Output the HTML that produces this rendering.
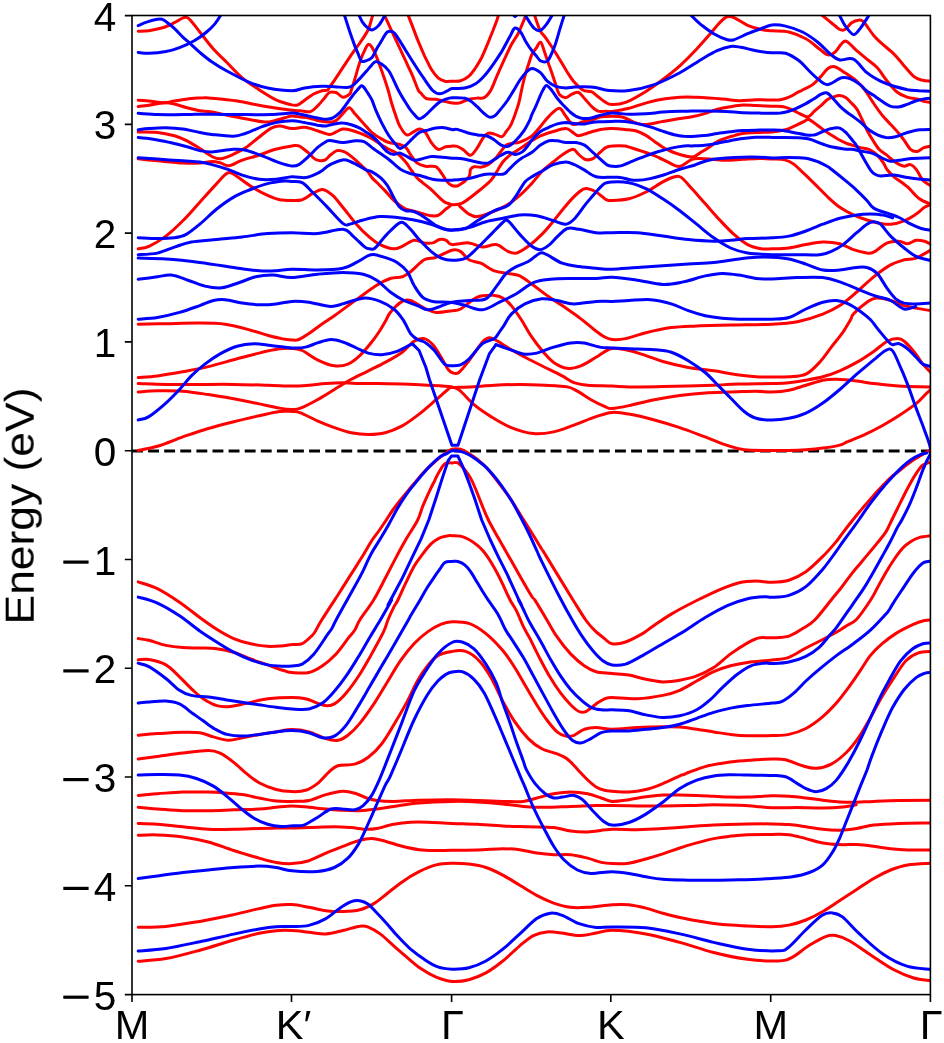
<!DOCTYPE html>
<html><head><meta charset="utf-8"><style>
html,body{margin:0;padding:0;background:#fff;}
body{width:944px;height:1043px;overflow:hidden;font-family:"Liberation Sans",sans-serif;}
svg{display:block;}
.t{will-change:transform;}
</style></head><body>
<svg width="944" height="1043" viewBox="0 0 944 1043">
<defs><clipPath id="c"><rect x="132" y="15.5" width="798.4" height="979.1"/></clipPath></defs>
<rect width="944" height="1043" fill="#fff"/>
<line x1="132" y1="450.9" x2="930.4" y2="450.9" stroke="#000" stroke-width="3" stroke-dasharray="10.9 5.2"/>
<g clip-path="url(#c)" fill="none" stroke-width="3" stroke-linejoin="round" stroke-linecap="round">
<g stroke="#f00"><path d="M138.2,100.2 C140.0,100.3 144.6,100.6 148.9,101.0 C153.3,101.4 160.0,102.7 164.2,102.7 C168.4,102.7 169.9,101.7 174.4,101.0 C178.9,100.3 186.4,99.0 191.3,98.5 C196.3,97.9 200.6,97.8 204.0,97.8 C207.5,97.7 206.4,97.6 212.0,98.2 C217.6,98.7 228.9,99.7 237.4,101.0 C245.9,102.3 253.8,104.5 262.8,106.1 C271.9,107.7 285.7,109.6 292.0,110.3 C298.3,111.1 297.4,110.6 300.5,110.8 C303.6,111.0 307.8,112.4 310.6,111.6 C313.5,110.8 315.2,108.3 317.4,106.1 C319.7,103.9 322.2,100.7 324.2,98.5 C326.2,96.2 327.3,93.5 329.3,92.5 C331.3,91.6 333.8,91.8 336.1,92.5 C338.3,93.3 340.6,96.9 342.8,97.2 C345.1,97.5 348.2,95.4 349.6,94.2 C351.0,93.0 350.5,92.5 351.3,90.0 C352.2,87.5 353.6,83.2 354.7,79.5 C355.8,75.8 357.0,71.3 358.1,67.6 C359.2,64.0 360.4,60.4 361.5,57.5 C362.6,54.5 363.8,52.0 364.9,49.8 C366.0,47.6 367.1,44.7 368.3,44.3 C369.5,43.9 370.8,45.7 372.0,47.3 C373.2,48.9 374.1,51.1 375.4,54.1 C376.7,57.0 378.4,61.7 379.6,65.1 C380.9,68.5 381.6,70.3 383.0,74.4 C384.4,78.6 386.7,85.3 388.1,90.0 C389.5,94.7 390.2,98.5 391.5,102.7 C392.8,106.9 394.3,111.5 395.7,115.4 C397.1,119.4 398.1,123.2 400.0,126.4 C401.8,129.7 404.6,133.9 406.7,134.9 C408.9,135.9 410.6,133.4 412.7,132.4 C414.8,131.4 417.3,129.0 419.5,129.0 C421.6,129.0 423.4,130.1 425.4,132.4 C427.4,134.6 429.2,139.7 431.3,142.5 C433.4,145.4 435.7,148.6 438.1,149.3 C440.5,150.0 443.4,147.3 445.7,146.8 C448.0,146.2 450.1,146.2 452.0,146.1 C453.9,146.1 455.1,145.7 457.1,146.4 C459.1,147.0 461.6,148.7 463.9,150.2 C466.1,151.7 468.4,155.7 470.6,155.3 C472.9,154.8 475.3,150.6 477.4,147.6 C479.5,144.7 481.5,139.9 483.4,137.5 C485.2,135.1 486.6,133.8 488.4,133.2 C490.3,132.7 492.1,133.5 494.4,134.1 C496.6,134.6 500.0,137.0 502.0,136.6 C504.0,136.2 504.8,133.4 506.2,131.5 C507.6,129.7 509.1,128.3 510.5,125.6 C511.9,122.9 513.3,119.2 514.7,115.4 C516.1,111.6 517.8,107.0 518.9,102.7 C520.1,98.4 520.6,94.2 521.6,89.8 C522.6,85.3 523.6,80.6 524.9,76.1 C526.1,71.6 527.9,66.1 529.1,62.5 C530.3,58.9 530.7,56.9 531.9,54.5 C533.1,52.1 534.8,50.2 536.2,48.1 C537.7,46.1 539.1,41.5 540.6,42.2 C542.0,42.9 543.3,48.6 544.7,52.4 C546.1,56.2 547.9,61.8 549.0,65.0 C550.2,68.2 550.5,69.0 551.5,71.9 C552.5,74.7 553.9,79.0 554.9,82.0 C555.9,85.1 556.6,87.8 557.4,90.0 C558.3,92.2 558.6,93.8 560.0,95.1 C561.4,96.4 563.9,97.8 565.9,97.6 C567.9,97.5 569.7,95.1 571.8,94.2 C573.9,93.4 576.5,91.8 578.6,92.5 C580.7,93.2 582.4,96.2 584.5,98.5 C586.7,100.7 589.1,104.0 591.3,106.1 C593.6,108.2 595.7,110.3 598.1,111.2 C600.5,112.0 603.4,111.2 605.7,111.2 C608.1,111.2 608.4,111.9 612.2,111.4 C616.1,110.9 621.9,110.1 628.9,108.3 C636.0,106.5 645.9,102.5 654.4,100.7 C662.8,98.8 672.7,97.9 679.8,97.3 C686.9,96.7 689.7,97.0 696.7,97.3 C703.8,97.6 715.1,98.4 722.2,99.0 C729.2,99.5 733.5,100.5 739.1,100.7 C744.8,100.8 750.6,99.9 756.1,99.8 C761.5,99.7 767.9,100.0 772.0,100.0 C776.1,100.0 777.6,100.2 780.5,99.7 C783.3,99.3 786.1,98.4 788.9,97.2 C791.8,96.0 795.2,93.7 797.4,92.5 C799.7,91.3 800.0,91.3 802.5,90.0 C805.1,88.7 809.6,86.9 812.7,84.6 C815.8,82.3 818.6,78.8 821.2,76.1 C823.7,73.4 825.7,70.0 827.9,68.5 C830.2,66.9 831.9,66.1 834.7,66.8 C837.5,67.5 841.2,70.3 844.9,72.7 C848.6,75.1 853.4,78.2 856.7,81.2 C860.1,84.1 862.3,86.8 865.1,90.4 C867.8,94.0 870.4,98.7 873.2,102.7 C875.9,106.7 878.8,111.0 881.7,114.6 C884.5,118.1 887.3,120.8 890.1,123.9 C893.0,127.0 896.2,130.4 898.6,133.2 C901.0,136.0 902.6,138.2 904.5,140.8 C906.5,143.5 908.4,147.6 910.5,149.3 C912.6,151.1 915.0,151.7 917.3,151.4 C919.5,151.2 921.6,148.5 924.0,147.6 C926.4,146.7 930.4,146.2 931.7,145.9"/><path d="M931.3,186.1 C929.9,185.1 925.3,182.9 922.8,180.2 C920.4,177.4 918.5,172.2 916.4,169.6 C914.4,167.0 912.5,165.1 910.5,164.6 C908.5,164.0 906.4,166.3 904.5,166.3 C902.7,166.3 901.4,165.6 899.5,164.6 C897.5,163.6 894.9,162.0 892.7,160.3 C890.4,158.6 888.2,156.2 885.9,154.4 C883.6,152.6 881.2,151.6 879.1,149.3 C877.0,147.1 875.2,144.0 873.2,140.8 C871.2,137.7 869.1,134.2 867.3,130.7 C865.4,127.1 863.9,123.2 862.2,119.7 C860.5,116.1 858.8,112.2 857.1,109.5 C855.4,106.8 853.9,105.5 852.0,103.6 C850.1,101.6 847.8,99.0 845.7,97.6 C843.7,96.3 841.8,95.6 839.8,95.5 C837.8,95.4 835.8,96.1 833.9,96.8 C831.9,97.4 830.1,97.9 827.9,99.3 C825.8,100.7 823.4,103.3 821.2,105.3 C818.9,107.2 816.5,109.3 814.4,111.2 C812.3,113.1 810.3,116.0 808.4,116.7 C806.6,117.4 805.2,116.1 803.4,115.4 C801.5,114.7 799.5,113.5 797.4,112.5 C795.3,111.4 793.2,110.1 790.6,109.1 C788.1,108.1 785.3,107.0 782.2,106.5 C779.1,106.1 776.4,106.4 772.0,106.2 C767.6,106.1 760.4,105.7 755.6,105.5 C750.7,105.3 747.1,104.9 742.8,105.1 C738.6,105.3 734.4,106.1 730.1,106.8 C725.9,107.5 721.7,108.2 717.4,109.3 C713.2,110.5 708.9,112.3 704.7,113.6 C700.5,114.8 696.9,115.7 692.0,116.7 C687.1,117.6 680.4,118.5 675.6,119.3 C670.7,120.1 667.1,120.7 662.8,121.4 C658.6,122.2 653.7,123.5 650.1,124.0 C646.6,124.5 644.5,124.8 641.7,124.4 C638.8,124.1 636.3,123.1 633.2,121.9 C630.1,120.7 626.5,118.1 623.0,117.2 C619.5,116.3 615.9,116.3 612.0,116.3 C608.1,116.3 603.2,116.4 599.8,117.1 C596.4,117.8 594.1,119.7 591.3,120.5 C588.5,121.3 586.0,121.1 582.8,121.8 C579.7,122.4 575.5,125.2 572.7,124.3 C569.9,123.4 568.2,119.0 565.9,116.3 C563.6,113.6 561.9,108.2 559.1,108.2 C556.3,108.2 552.1,113.2 548.9,116.3 C545.8,119.3 543.3,123.2 540.5,126.4 C537.6,129.7 535.4,133.1 532.0,135.8 C528.6,138.4 523.2,140.8 519.8,142.1 C516.4,143.4 513.6,142.9 511.3,143.4 C509.1,143.9 507.9,143.8 506.2,145.1 C504.5,146.4 502.8,148.9 501.2,151.0 C499.5,153.1 498.2,155.5 496.1,157.8 C493.9,160.1 490.8,163.0 488.4,164.6 C486.0,166.1 484.1,166.8 481.7,167.1 C479.3,167.5 475.9,166.3 474.0,166.7 C472.2,167.1 471.3,167.9 470.4,169.6 C469.6,171.3 470.9,174.2 468.9,176.8 C467.0,179.4 461.6,183.8 458.8,185.3 C455.9,186.7 453.8,186.2 451.8,185.5 C449.8,184.8 448.2,183.0 446.6,181.1 C445.0,179.2 444.1,176.7 442.3,174.3 C440.5,171.9 438.6,168.1 435.7,166.7 C432.9,165.4 428.5,166.9 425.4,166.3 C422.3,165.6 419.3,164.7 416.9,162.9 C414.5,161.0 412.8,157.8 411.0,155.3 C409.1,152.7 407.9,149.5 405.9,147.6 C403.9,145.8 401.9,145.1 399.1,144.2 C396.3,143.4 392.1,143.5 388.9,142.5 C385.8,141.6 383.4,140.1 380.5,138.3 C377.5,136.5 374.1,134.4 371.4,132.0 C368.6,129.6 366.7,126.8 364.0,123.9 C361.4,121.0 358.0,117.3 355.6,114.6 C353.1,111.9 351.3,107.9 349.2,107.8 C347.1,107.7 345.0,111.6 342.8,113.7 C340.7,115.8 338.2,119.1 336.1,120.5 C333.9,121.9 333.2,122.2 330.1,122.2 C327.0,122.2 321.0,121.2 317.4,120.5 C313.9,119.8 311.8,118.5 308.9,118.0 C306.1,117.4 303.3,117.4 300.5,117.1 C297.6,116.8 294.7,115.9 292.0,116.1 C289.3,116.2 287.5,117.1 284.0,118.0 C280.6,118.9 274.9,120.9 271.3,121.5 C267.8,122.2 268.5,122.5 262.8,121.8 C257.2,121.1 245.9,118.9 237.4,117.3 C228.9,115.7 218.3,113.2 212.0,112.1 C205.7,111.0 203.9,111.5 199.8,110.8 C195.6,110.0 191.3,108.9 187.1,107.8 C182.8,106.7 178.2,104.8 174.4,104.0 C170.6,103.1 168.4,102.5 164.2,102.7 C160.0,102.9 153.3,104.6 148.9,105.3 C144.6,105.9 140.0,106.3 138.2,106.5"/><path d="M931.0,535.7 C929.1,536.0 923.1,536.5 919.8,537.4 C916.5,538.3 914.1,539.4 911.3,541.2 C908.5,543.0 905.6,545.0 902.8,548.0 C900.0,551.0 897.2,554.9 894.4,559.0 C891.6,563.1 888.7,567.7 885.9,572.5 C883.1,577.3 879.9,583.2 877.4,587.8 C874.9,592.4 874.1,594.8 870.6,600.0 C867.2,605.2 860.8,614.8 856.7,619.2 C852.7,623.5 849.0,624.1 846.2,625.9 C843.3,627.8 843.7,627.9 839.8,630.2 C835.9,632.4 828.5,636.5 822.8,639.5 C817.2,642.5 811.5,645.0 805.9,648.0 C800.2,650.9 794.6,655.3 788.9,657.3 C783.3,659.3 778.9,659.2 772.0,660.1 C765.1,660.9 754.5,661.4 747.6,662.4 C740.7,663.3 736.3,664.2 730.6,665.8 C725.0,667.3 719.3,669.2 713.7,671.7 C708.0,674.2 702.4,677.9 696.7,681.0 C691.1,684.1 685.4,687.9 679.8,690.3 C674.1,692.7 669.9,694.0 662.8,695.4 C655.8,696.8 645.9,698.5 637.4,698.8 C628.9,699.2 617.5,697.5 612.0,697.5 C606.5,697.5 607.2,697.8 604.5,698.8 C601.9,699.9 599.2,701.8 596.1,703.9 C593.0,706.0 588.7,710.3 585.9,711.5 C583.1,712.8 581.7,712.7 579.1,711.5 C576.6,710.4 573.8,707.9 570.6,704.7 C567.5,701.6 563.9,697.4 560.5,692.9 C557.1,688.4 553.7,683.3 550.3,677.6 C546.9,672.0 543.5,665.5 540.1,659.0 C536.7,652.5 532.7,644.0 530.0,638.6 C527.2,633.3 525.7,631.4 523.4,626.7 C521.2,622.1 518.6,615.1 516.4,610.7 C514.2,606.3 512.5,604.6 510.2,600.2 C507.9,595.8 505.0,589.0 502.8,584.4 C500.6,579.8 499.0,576.5 496.9,572.5 C494.8,568.5 492.2,564.1 490.1,560.7 C488.0,557.3 486.3,554.8 484.2,552.2 C482.1,549.7 479.9,547.5 477.4,545.4 C474.8,543.3 471.7,541.0 468.9,539.5 C466.1,538.0 463.3,536.7 460.5,536.1 C457.7,535.5 454.0,535.8 452.0,535.7 C450.0,535.6 450.3,535.4 448.3,535.7 C446.3,536.1 442.6,536.5 439.8,537.8 C437.0,539.1 434.1,541.0 431.3,543.7 C428.5,546.4 425.6,550.2 422.8,553.9 C420.0,557.6 417.2,561.0 414.4,565.8 C411.6,570.6 408.7,577.0 405.9,582.7 C403.1,588.4 399.9,596.1 397.8,600.2 C395.8,604.3 395.3,604.1 393.7,607.3 C392.1,610.5 389.7,615.6 388.0,619.7 C386.3,623.8 386.3,626.2 383.5,631.9 C380.8,637.6 375.6,646.8 371.7,653.9 C367.7,661.0 364.0,667.7 359.8,674.2 C355.6,680.7 350.5,687.9 346.2,692.9 C342.0,697.8 337.8,701.8 334.4,703.9 C331.0,706.0 328.7,705.7 325.9,705.6 C323.1,705.5 320.8,704.2 317.4,703.1 C314.0,701.9 309.8,699.7 305.6,698.8 C301.3,697.9 298.3,697.5 292.0,697.5 C285.7,697.5 275.1,697.9 267.6,698.8 C260.1,699.7 253.5,701.8 247.3,703.1 C241.0,704.3 235.4,706.0 230.3,706.4 C225.2,706.9 221.3,706.9 216.7,705.6 C212.2,704.3 207.4,701.6 203.2,698.8 C198.9,696.0 195.3,692.3 191.3,688.6 C187.4,685.0 183.7,680.7 179.5,676.8 C175.2,672.8 171.0,667.8 165.9,664.9 C160.8,662.0 153.6,660.3 148.9,659.5 C144.3,658.6 140.0,659.8 138.2,659.8"/><path d="M138.2,581.9 C141.4,583.0 150.5,585.3 157.4,588.6 C164.3,592.0 172.4,597.4 179.5,602.2 C186.5,607.0 193.6,612.9 199.8,617.5 C206.0,622.0 211.1,625.8 216.7,629.3 C222.4,632.9 228.0,636.2 233.7,638.6 C239.3,641.0 245.0,642.5 250.6,643.7 C256.3,645.0 262.5,645.9 267.6,646.3 C272.7,646.6 277.1,646.2 281.2,645.9 C285.2,645.6 288.5,644.9 292.0,644.6 C295.5,644.2 298.8,645.3 302.2,643.7 C305.6,642.2 310.0,637.5 312.3,635.3 C314.6,633.0 314.4,632.8 315.9,630.2 C317.5,627.7 317.7,626.3 321.7,620.0 C325.6,613.7 334.5,600.2 339.5,592.5 C344.4,584.9 347.6,579.7 351.3,573.9 C355.0,568.1 359.0,561.8 361.5,557.8 C364.0,553.8 364.5,553.0 366.2,550.0 C368.0,547.1 369.9,543.5 372.0,540.3 C374.1,537.1 376.5,534.3 378.8,531.0 C381.1,527.7 383.6,523.9 386.0,520.3 C388.4,516.7 390.6,513.1 393.2,509.5 C395.8,505.9 398.9,502.0 401.7,498.5 C404.5,495.0 407.3,491.7 410.1,488.3 C412.9,484.9 415.8,481.4 418.6,478.1 C421.4,474.9 424.3,471.6 427.1,468.8 C429.9,466.0 432.8,463.6 435.6,461.2 C438.4,458.8 441.3,456.4 444.0,454.4 C446.7,452.4 449.2,450.0 452.0,449.2 C454.8,448.4 457.7,448.6 460.5,449.3 C463.3,450.0 466.1,451.9 468.9,453.6 C471.7,455.3 474.6,457.2 477.4,459.5 C480.2,461.8 483.1,464.1 485.9,467.1 C488.7,470.1 491.6,473.8 494.4,477.3 C497.2,480.8 500.0,484.5 502.8,488.3 C505.6,492.1 508.5,496.0 511.3,500.2 C514.1,504.4 516.3,508.2 519.8,513.7 C523.2,519.2 528.3,527.4 532.0,533.3 C535.7,539.2 539.5,545.5 541.8,549.2 C544.1,552.9 540.7,547.1 545.9,555.6 C551.1,564.1 566.4,589.3 573.0,600.0 C579.7,610.7 582.2,615.0 585.7,620.0 C589.3,625.0 591.2,627.1 594.4,630.2 C597.5,633.3 601.6,636.4 604.5,638.6 C607.5,640.9 608.5,643.2 612.0,643.7 C615.5,644.3 620.5,643.7 625.6,642.0 C630.6,640.3 638.1,636.1 642.5,633.6 C646.9,631.1 647.0,630.3 651.8,627.0 C656.6,623.8 663.8,618.5 671.3,614.1 C678.8,609.6 688.3,604.7 696.7,600.5 C705.2,596.3 715.1,591.6 722.2,588.6 C729.2,585.7 733.5,584.0 739.1,582.7 C744.8,581.4 750.6,581.1 756.1,581.0 C761.5,580.9 766.5,582.4 772.0,582.3 C777.5,582.1 783.3,581.9 788.9,580.2 C794.6,578.4 800.2,575.6 805.9,571.7 C811.5,567.7 817.8,561.4 822.8,556.4 C827.9,551.5 832.8,545.7 836.0,541.9 C839.2,538.2 839.2,537.5 842.0,533.8 C844.8,530.1 849.4,524.2 852.8,520.0 C856.2,515.8 858.8,512.6 862.2,508.6 C865.6,504.6 869.5,500.0 873.2,495.9 C876.9,491.8 881.4,487.1 884.2,484.1 C887.0,481.1 887.7,480.2 890.1,478.1 C892.5,476.0 895.8,473.6 898.6,471.4 C901.4,469.1 904.3,466.7 907.1,464.6 C909.9,462.5 912.8,460.4 915.6,458.6 C918.4,456.8 921.4,455.2 924.0,453.6 C926.6,452.0 929.8,449.9 931.0,449.2"/><path d="M138.2,377.6 C141.4,377.3 150.0,376.9 157.4,375.9 C164.9,374.9 174.4,373.2 182.8,371.7 C191.3,370.1 199.8,368.6 208.3,366.6 C216.7,364.6 225.2,362.1 233.7,359.8 C242.2,357.6 251.5,354.9 259.1,353.1 C266.7,351.2 274.0,349.6 279.5,348.8 C284.9,348.0 288.2,348.1 292.0,348.4 C295.8,348.7 297.9,348.6 302.2,350.5 C306.4,352.4 312.1,357.3 317.4,359.8 C322.8,362.4 329.3,365.1 334.4,365.8 C339.5,366.5 343.7,365.8 347.9,364.1 C352.2,362.4 355.8,359.3 359.8,355.6 C363.8,351.9 368.3,346.3 371.7,342.0 C375.1,337.8 377.7,333.9 380.1,330.2 C382.6,326.4 384.7,322.5 386.4,319.5 C388.0,316.6 387.7,315.4 390.3,312.4 C392.9,309.3 398.8,303.3 402.2,301.4 C405.6,299.4 407.0,299.4 410.6,300.5 C414.3,301.6 420.0,306.2 424.2,308.1 C428.4,310.1 431.4,311.9 436.1,312.4 C440.7,312.8 447.9,311.2 452.0,310.7 C456.1,310.1 456.2,311.2 460.5,309.0 C464.7,306.7 471.8,299.4 477.4,297.1 C483.1,294.9 490.1,295.3 494.4,295.4 C498.6,295.6 500.0,296.3 502.8,298.0 C505.7,299.7 508.2,301.9 511.3,305.6 C514.4,309.3 518.1,314.8 521.5,320.0 C524.9,325.2 528.0,331.6 531.7,336.9 C535.3,342.3 539.9,348.0 543.5,352.2 C547.2,356.4 549.7,359.7 553.7,362.4 C557.6,365.1 562.7,367.7 567.3,368.3 C571.8,368.9 576.0,367.6 580.8,365.8 C585.6,363.9 590.9,360.2 596.1,357.3 C601.2,354.4 606.3,349.6 611.8,348.5 C617.3,347.4 623.3,349.3 628.9,350.5 C634.6,351.7 640.2,353.8 645.9,355.6 C651.5,357.4 655.8,359.5 662.8,361.5 C669.9,363.5 679.8,365.9 688.3,367.5 C696.7,369.0 705.2,369.6 713.7,370.8 C722.2,372.1 732.1,374.1 739.1,375.1 C746.2,376.1 750.6,376.5 756.1,376.8 C761.5,377.1 766.5,377.0 772.0,377.0 C777.5,377.0 783.3,377.2 788.9,376.8 C794.6,376.3 800.8,376.6 805.9,374.2 C811.0,371.8 815.2,366.9 819.5,362.4 C823.7,357.9 827.4,352.2 831.3,347.1 C835.3,342.0 839.9,336.5 843.2,331.9 C846.4,327.2 849.1,322.2 850.8,319.3 C852.5,316.3 850.7,316.9 853.4,314.1 C856.0,311.2 863.0,304.9 866.9,302.2 C870.9,299.5 873.1,298.2 877.1,298.0 C881.0,297.7 886.1,299.2 890.6,300.5 C895.2,301.8 900.0,304.3 904.2,305.6 C908.4,306.9 911.5,307.3 916.1,308.1 C920.6,309.0 928.8,310.3 931.3,310.7"/><path d="M931.0,462.5 C930.3,462.6 928.1,462.8 926.6,463.3 C925.1,463.8 924.0,463.8 922.3,465.4 C920.6,467.0 918.2,470.4 916.4,473.1 C914.6,475.8 912.8,478.8 911.3,481.5 C909.8,484.2 909.1,485.4 907.1,489.2 C905.1,493.0 902.0,499.3 899.5,504.4 C897.0,509.5 894.1,515.4 891.8,520.0 C889.5,524.6 888.3,528.1 885.9,531.9 C883.5,535.7 880.2,539.4 877.4,542.9 C874.6,546.4 871.7,549.7 868.9,553.1 C866.1,556.5 863.3,559.8 860.5,563.2 C857.7,566.6 855.4,569.1 852.0,573.4 C848.6,577.7 843.8,584.3 840.4,588.8 C836.9,593.2 835.4,594.8 831.2,600.0 C826.9,605.2 819.5,615.2 814.7,620.0 C810.0,624.8 807.0,625.8 802.7,628.5 C798.4,631.2 794.1,634.6 788.9,636.1 C783.8,637.7 776.9,637.5 772.0,637.8 C767.1,638.1 763.5,636.9 759.5,637.8 C755.4,638.6 752.4,640.2 747.6,642.9 C742.8,645.6 736.3,649.8 730.6,653.9 C725.0,658.0 719.3,663.8 713.7,667.5 C708.0,671.1 702.4,673.8 696.7,675.9 C691.1,678.1 685.4,679.2 679.8,680.2 C674.1,681.2 668.5,682.0 662.8,681.9 C657.2,681.7 651.5,680.5 645.9,679.3 C640.2,678.2 634.6,676.1 628.9,675.1 C623.3,674.1 617.5,674.0 612.0,673.4 C606.5,672.8 600.7,673.0 596.1,671.7 C591.4,670.4 588.4,668.7 584.2,665.8 C580.0,662.8 575.2,658.7 570.6,653.9 C566.1,649.1 561.0,642.6 557.1,636.9 C553.1,631.3 550.6,626.1 546.9,620.0 C543.3,613.9 537.7,604.4 535.1,600.4 C532.6,596.5 534.4,600.7 531.7,596.3 C529.0,591.9 522.7,580.9 518.9,574.2 C515.1,567.6 512.2,562.3 508.8,556.4 C505.4,550.5 502.0,544.7 498.6,538.6 C495.2,532.5 491.2,525.7 488.4,520.0 C485.6,514.3 483.8,509.5 481.7,504.4 C479.6,499.3 477.5,493.6 475.7,489.2 C473.9,484.8 472.4,481.4 470.6,478.1 C468.8,474.9 466.8,472.2 464.7,469.7 C462.6,467.2 460.0,464.0 457.9,462.9 C455.8,461.8 454.2,462.8 452.0,462.9 C449.8,463.0 447.1,462.1 444.9,463.7 C442.7,465.2 440.6,469.4 438.9,472.2 C437.2,475.0 436.2,477.6 434.7,480.7 C433.1,483.8 431.6,486.6 429.6,490.8 C427.6,495.0 424.8,501.2 422.8,506.1 C420.8,511.0 420.5,514.4 417.7,520.0 C414.9,525.6 409.6,533.1 405.9,539.5 C402.2,545.9 399.2,551.5 395.7,558.1 C392.2,564.7 388.4,572.2 384.7,579.3 C381.0,586.4 377.5,593.7 373.3,600.5 C369.2,607.2 362.9,615.1 359.8,620.0 C356.7,624.9 356.8,626.9 354.8,630.0 C352.8,633.2 351.1,634.7 347.9,638.6 C344.8,642.6 340.3,649.4 336.1,653.9 C331.8,658.4 327.0,662.7 322.5,665.8 C318.0,668.9 314.0,671.4 308.9,672.5 C303.9,673.7 296.1,672.8 292.0,672.5 C287.9,672.3 288.6,672.1 284.5,670.8 C280.5,669.6 273.2,666.9 267.6,664.9 C261.9,662.9 256.3,661.1 250.6,659.0 C245.0,656.9 239.3,653.9 233.7,652.2 C228.0,650.5 222.4,649.5 216.7,648.8 C211.1,648.1 205.4,648.2 199.8,648.0 C194.1,647.8 188.5,648.1 182.8,647.6 C177.2,647.2 171.5,646.6 165.9,645.4 C160.2,644.2 153.6,641.5 148.9,640.3 C144.3,639.2 140.0,638.9 138.2,638.6"/><path d="M138.2,131.9 C141.4,132.0 151.4,131.7 157.4,132.4 C163.5,133.0 169.4,134.4 174.4,135.8 C179.3,137.2 182.8,138.7 187.1,140.8 C191.3,143.0 195.6,145.9 199.8,148.5 C203.9,151.1 208.6,154.8 212.0,156.5 C215.4,158.2 216.9,159.2 220.5,158.8 C224.0,158.5 228.9,156.3 233.2,154.4 C237.4,152.5 241.7,150.5 245.9,147.6 C250.1,144.8 254.4,140.7 258.6,137.5 C262.8,134.2 267.8,130.0 271.3,128.1 C274.9,126.2 276.4,125.9 279.8,126.0 C283.2,126.1 287.8,128.3 292.0,128.6 C296.2,128.8 300.5,126.9 304.7,127.3 C308.9,127.6 313.3,129.5 317.4,130.7 C321.5,131.9 326.2,134.3 329.3,134.5 C332.4,134.7 333.8,132.9 336.1,131.9 C338.3,131.0 340.3,129.3 342.8,129.0 C345.4,128.7 348.5,129.5 351.3,130.3 C354.1,131.0 356.4,131.8 359.8,133.2 C363.2,134.6 368.6,136.9 372.0,138.7 C375.4,140.6 377.6,142.5 380.5,144.2 C383.3,146.0 386.1,147.8 388.9,149.3 C391.8,150.9 394.9,151.7 397.4,153.6 C400.0,155.4 402.5,158.5 404.2,160.3 C405.9,162.2 406.5,163.1 407.8,164.8 C409.0,166.6 410.3,168.8 411.8,170.9 C413.4,173.1 415.1,175.7 416.9,177.7 C418.8,179.7 420.4,180.8 422.8,182.8 C425.2,184.8 428.8,187.3 431.3,189.6 C433.9,191.8 435.8,194.2 438.1,196.4 C440.4,198.5 442.8,200.9 444.9,202.3 C447.0,203.7 450.8,203.6 450.8,204.8 C450.8,206.1 447.0,208.1 444.9,209.9 C442.8,211.7 440.4,214.4 438.1,215.4 C435.8,216.4 433.9,216.1 431.3,215.8 C428.8,215.6 425.7,214.5 422.8,213.7 C420.0,213.0 417.2,212.0 414.4,211.2 C411.5,210.4 408.4,210.1 405.9,209.1 C403.4,208.0 401.4,206.5 399.1,204.8 C396.9,203.1 394.7,201.3 392.3,198.9 C389.9,196.5 387.3,193.1 384.7,190.4 C382.2,187.7 379.2,184.9 377.1,182.8 C375.0,180.7 373.6,179.6 372.0,177.7 C370.4,175.8 369.2,173.2 367.6,171.3 C366.0,169.4 364.8,168.5 362.3,166.3 C359.9,164.0 356.0,160.2 353.0,157.8 C350.1,155.4 347.2,153.1 344.5,151.9 C341.9,150.7 339.3,150.0 336.9,150.6 C334.5,151.2 332.3,153.6 330.1,155.3 C328.0,156.9 326.6,159.6 324.2,160.3 C321.8,161.0 318.6,160.9 315.7,159.5 C312.9,158.1 310.1,154.1 307.3,151.9 C304.4,149.6 301.3,146.9 298.8,145.9 C296.2,144.9 295.9,145.4 292.0,145.9 C288.1,146.5 281.1,147.8 275.6,149.3 C270.0,150.9 264.3,153.4 258.6,155.3 C253.0,157.1 246.6,158.6 241.7,160.3 C236.7,162.1 232.5,165.4 228.9,165.8 C225.4,166.3 223.3,163.6 220.5,162.9 C217.6,162.2 215.4,161.6 212.0,161.6 C208.6,161.6 204.7,162.8 199.8,163.1 C194.9,163.3 189.9,163.4 182.8,163.1 C175.8,162.7 164.9,161.5 157.4,160.8 C150.0,160.1 141.4,159.1 138.2,158.8"/><path d="M931.3,204.4 C929.3,203.5 923.4,201.7 919.5,198.8 C915.5,195.9 911.8,190.6 907.6,186.9 C903.4,183.3 897.4,179.6 894.0,176.8 C890.7,174.0 889.2,172.3 887.4,170.0 C885.6,167.7 885.0,165.3 883.4,162.9 C881.7,160.4 879.8,157.5 877.4,155.3 C875.0,153.0 871.8,150.6 868.9,149.3 C866.1,148.1 863.3,148.3 860.5,147.6 C857.6,146.9 854.3,145.8 852.0,145.1 C849.7,144.4 848.9,144.4 846.6,143.4 C844.3,142.4 840.9,140.7 838.1,139.2 C835.3,137.6 832.5,135.9 829.6,134.1 C826.8,132.2 823.7,130.0 821.2,128.1 C818.6,126.3 816.5,124.5 814.4,123.1 C812.3,121.6 810.1,119.5 808.4,119.2 C806.7,119.0 806.0,120.4 804.2,121.4 C802.4,122.3 800.0,123.5 797.4,124.7 C794.9,125.9 791.8,127.6 788.9,128.6 C786.1,129.5 783.3,130.1 780.5,130.7 C777.6,131.2 776.2,131.5 772.0,131.9 C767.8,132.2 760.4,132.4 755.6,132.6 C750.7,132.9 746.4,133.0 742.8,133.5 C739.3,134.0 737.2,134.8 734.4,135.6 C731.5,136.4 728.7,137.1 725.9,138.1 C723.1,139.1 720.2,140.0 717.4,141.5 C714.6,143.1 711.8,145.6 708.9,147.5 C706.1,149.3 703.2,151.0 700.5,152.5 C697.8,154.1 696.1,156.6 692.6,156.9 C689.2,157.2 683.3,155.4 679.8,154.5 C676.2,153.6 674.1,152.7 671.3,151.5 C668.5,150.3 665.7,149.0 662.8,147.3 C660.0,145.6 657.2,143.3 654.4,141.4 C651.5,139.4 649.0,137.2 645.9,135.4 C642.8,133.7 639.3,131.8 635.7,130.8 C632.2,129.8 628.7,129.9 624.7,129.5 C620.8,129.1 615.4,128.7 612.0,128.6 C608.6,128.5 606.8,128.6 604.0,129.0 C601.3,129.3 598.4,130.0 595.6,130.7 C592.7,131.4 589.9,132.4 587.1,133.2 C584.3,134.1 581.0,135.9 578.6,135.8 C576.2,135.6 574.8,133.6 572.7,132.4 C570.6,131.2 569.1,128.7 565.9,128.6 C562.6,128.4 557.4,130.3 553.2,131.5 C548.9,132.7 544.0,134.3 540.5,135.8 C536.9,137.3 534.5,138.9 531.8,140.6 C529.1,142.3 526.6,144.2 524.0,145.9 C521.5,147.7 518.8,149.5 516.4,151.0 C514.0,152.6 511.9,153.4 509.6,155.3 C507.4,157.1 504.8,159.6 502.8,162.0 C500.9,164.5 499.7,167.0 497.8,170.0 C495.8,173.0 494.4,176.5 491.0,180.2 C487.6,183.8 482.2,188.2 477.4,192.0 C472.6,195.8 466.4,200.9 462.2,203.1 C457.9,205.2 453.7,204.5 452.0,204.7"/><path d="M931.3,863.2 C927.4,863.5 914.4,863.8 907.6,864.9 C900.8,866.0 896.3,867.7 890.6,870.0 C885.0,872.3 879.3,875.2 873.7,878.5 C868.0,881.7 862.4,885.8 856.7,889.5 C851.1,893.2 845.4,896.8 839.8,900.5 C834.1,904.2 828.5,908.3 822.8,911.5 C817.2,914.8 811.5,917.7 805.9,920.0 C800.2,922.3 794.6,924.0 788.9,925.1 C783.3,926.2 778.9,926.6 772.0,926.8 C765.1,926.9 754.5,926.2 747.6,925.9 C740.7,925.6 736.3,925.5 730.6,925.1 C725.0,924.7 719.3,924.1 713.7,923.4 C708.0,922.7 702.4,921.8 696.7,920.8 C691.1,919.9 685.4,918.7 679.8,917.5 C674.1,916.2 668.5,914.8 662.8,913.2 C657.2,911.7 651.5,909.5 645.9,908.1 C640.2,906.7 634.6,905.3 628.9,904.7 C623.3,904.2 618.9,904.3 612.0,904.7 C605.1,905.2 594.5,906.9 587.6,907.3 C580.7,907.7 576.3,908.0 570.6,907.3 C565.0,906.6 559.3,905.0 553.7,903.1 C548.0,901.1 542.4,898.4 536.7,895.4 C531.1,892.5 525.4,888.6 519.8,885.3 C514.1,881.9 508.5,878.1 502.8,875.1 C497.2,872.1 491.5,869.3 485.9,867.5 C480.2,865.6 474.6,864.8 468.9,864.1 C463.3,863.4 457.5,863.1 452.0,863.2 C446.5,863.4 441.5,863.5 436.1,864.9 C430.6,866.3 424.8,868.9 419.1,871.7 C413.5,874.5 407.5,878.2 402.2,881.9 C396.8,885.5 391.7,890.1 386.9,893.7 C382.1,897.4 377.9,901.2 373.4,903.9 C368.8,906.6 364.9,908.6 359.8,909.8 C354.7,911.1 348.5,911.4 342.8,911.5 C337.2,911.7 331.5,911.4 325.9,910.7 C320.2,910.0 314.6,908.3 308.9,907.3 C303.3,906.3 297.5,904.9 292.0,904.6 C286.5,904.2 281.5,904.6 276.1,905.3 C270.6,905.9 266.2,907.1 259.1,908.6 C252.1,910.2 243.6,912.5 233.7,914.6 C223.8,916.7 211.1,919.4 199.8,921.4 C188.5,923.3 176.2,925.5 165.9,926.4 C155.6,927.4 142.8,927.1 138.2,927.3"/><path d="M931.3,651.4 C929.1,651.6 922.0,651.5 917.8,653.1 C913.5,654.6 909.9,656.6 905.9,660.7 C901.9,664.8 898.0,671.7 894.0,677.6 C890.1,683.6 885.8,690.1 882.2,696.3 C878.5,702.5 875.7,708.4 872.0,714.9 C868.3,721.4 864.4,729.0 860.1,735.3 C855.9,741.5 851.4,747.4 846.6,752.2 C841.8,757.0 836.4,761.4 831.3,764.1 C826.2,766.8 820.9,768.0 816.1,768.3 C811.3,768.6 807.6,767.2 802.5,765.8 C797.4,764.4 790.6,761.0 785.6,759.8 C780.5,758.7 776.9,759.0 772.0,759.0 C767.1,759.0 761.5,759.5 756.1,759.8 C750.6,760.2 744.8,760.5 739.1,761.0 C733.5,761.6 727.8,762.3 722.2,763.2 C716.5,764.2 710.9,765.1 705.2,766.6 C699.6,768.2 691.9,771.2 688.3,772.5 C684.7,773.9 685.1,774.0 683.7,774.6 C682.3,775.1 683.3,774.4 679.8,775.9 C676.3,777.4 668.5,781.3 662.8,783.6 C657.2,785.8 651.5,788.1 645.9,789.5 C640.2,790.9 634.6,791.8 628.9,792.0 C623.3,792.3 616.1,791.5 612.0,791.2 C607.9,790.9 607.2,791.0 604.5,790.3 C601.9,789.6 599.0,788.7 596.1,786.9 C593.2,785.1 590.3,782.5 587.2,779.5 C584.0,776.6 580.7,772.6 577.4,769.2 C574.1,765.7 570.6,761.5 567.3,759.0 C563.9,756.4 561.3,755.6 557.1,753.9 C552.8,752.2 546.6,751.4 541.8,748.8 C537.0,746.3 532.8,743.2 528.3,738.6 C523.8,734.1 518.9,727.9 514.7,721.7 C510.5,715.5 506.8,708.7 502.8,701.4 C498.9,694.0 494.9,684.4 491.0,677.6 C487.0,670.8 483.4,665.1 479.1,660.7 C474.9,656.3 470.1,652.9 465.6,651.4 C461.0,649.8 456.6,650.6 452.0,651.4 C447.4,652.1 441.8,653.2 437.8,655.6 C433.7,658.0 431.0,661.5 427.6,665.8 C424.2,670.0 420.8,675.1 417.4,681.0 C414.0,686.9 411.2,694.0 407.3,701.4 C403.3,708.7 397.9,718.0 393.7,725.1 C389.5,732.1 386.1,738.4 381.8,743.7 C377.6,749.1 372.8,753.9 368.3,757.3 C363.8,760.7 359.8,762.7 354.7,764.1 C349.6,765.5 342.0,764.5 337.8,765.8 C333.5,767.1 332.5,768.9 329.1,771.8 C325.7,774.8 321.4,780.5 317.4,783.6 C313.5,786.6 309.8,789.0 305.6,790.3 C301.3,791.7 296.9,791.8 292.0,791.6 C287.1,791.5 281.5,791.0 276.1,789.5 C270.6,788.0 263.9,785.3 259.1,782.7 C254.3,780.2 251.5,777.6 247.3,774.2 C243.0,770.8 238.2,765.9 233.7,762.4 C229.2,758.8 224.4,755.0 220.1,753.1 C215.9,751.1 214.5,750.5 208.3,750.5 C202.1,750.5 191.3,752.1 182.8,753.1 C174.4,754.0 164.9,755.5 157.4,756.4 C150.0,757.4 141.4,758.6 138.2,759.0"/><path d="M138.2,795.4 C141.4,795.1 150.0,794.3 157.4,793.7 C164.9,793.2 174.4,792.3 182.8,792.0 C191.3,791.8 201.2,791.9 208.3,792.0 C215.3,792.2 219.6,792.5 225.2,792.9 C230.9,793.3 236.5,793.7 242.2,794.6 C247.8,795.4 253.5,796.9 259.1,798.0 C264.8,799.0 270.6,800.5 276.1,801.0 C281.5,801.6 286.5,801.4 292.0,801.4 C297.5,801.3 303.3,801.6 308.9,800.5 C314.6,799.4 320.2,796.1 325.9,794.6 C331.5,793.0 337.8,791.3 342.8,791.2 C347.9,791.0 352.5,792.6 356.4,793.7 C360.4,794.9 363.2,796.8 366.6,798.0 C370.0,799.1 372.2,799.9 376.7,800.5 C381.3,801.1 386.6,801.4 393.7,801.4 C400.8,801.3 409.4,800.5 419.1,800.2 C428.8,799.9 442.3,799.6 452.0,799.7 C461.7,799.7 468.9,800.2 477.4,800.5 C485.9,800.8 495.2,801.2 502.8,801.4 C510.5,801.5 517.0,802.1 523.2,801.4 C529.4,800.6 535.1,798.4 540.1,797.1 C545.2,795.8 548.6,794.6 553.7,793.7 C558.8,792.9 565.0,792.0 570.6,792.0 C576.3,792.0 582.5,792.7 587.6,793.7 C592.7,794.7 597.1,796.7 601.2,798.0 C605.2,799.2 607.4,801.1 612.0,801.4 C616.6,801.6 623.3,800.4 628.9,799.7 C634.6,798.9 640.2,797.5 645.9,796.8 C651.5,796.0 657.2,795.4 662.8,795.1 C668.5,794.8 674.1,795.0 679.8,795.1 C685.4,795.1 691.1,795.2 696.7,795.4 C702.4,795.6 708.0,796.0 713.7,796.3 C719.3,796.6 725.0,797.0 730.6,797.1 C736.3,797.3 740.7,797.3 747.6,797.1 C754.5,796.9 765.1,795.9 772.0,795.8 C778.9,795.6 783.3,795.9 788.9,796.3 C794.6,796.6 800.2,797.3 805.9,798.0 C811.5,798.6 817.2,799.5 822.8,800.2 C828.5,800.8 834.1,801.5 839.8,801.9 C845.4,802.2 851.1,802.3 856.7,802.2 C862.4,802.1 866.6,801.6 873.7,801.4 C880.8,801.1 889.5,800.7 899.1,800.5 C908.7,800.3 926.0,800.2 931.3,800.2"/><path d="M138.2,735.3 C141.4,735.0 150.0,734.1 157.4,733.6 C164.9,733.1 175.8,732.3 182.8,732.2 C189.9,732.1 194.7,731.9 199.8,732.7 C204.9,733.5 208.6,735.7 213.4,736.9 C218.2,738.2 223.8,740.2 228.6,740.3 C233.4,740.5 237.1,738.8 242.2,737.8 C247.3,736.8 253.5,735.4 259.1,734.4 C264.8,733.4 270.6,732.7 276.1,731.9 C281.5,731.1 286.5,729.6 292.0,729.6 C297.5,729.6 303.3,730.4 308.9,731.9 C314.6,733.4 321.1,737.2 325.9,738.6 C330.7,740.1 334.1,740.9 337.8,740.3 C341.4,739.8 344.3,738.1 347.9,735.3 C351.6,732.4 355.6,728.5 359.8,723.4 C364.0,718.3 368.8,711.5 373.4,704.7 C377.9,698.0 382.4,690.1 386.9,682.7 C391.4,675.4 396.0,667.2 400.5,660.7 C405.0,654.2 409.5,648.5 414.0,643.7 C418.6,638.9 423.1,635.1 427.6,631.9 C432.1,628.6 437.1,625.9 441.2,624.2 C445.2,622.5 447.4,621.8 452.0,621.7 C456.6,621.6 463.3,621.4 468.9,623.4 C474.6,625.4 480.2,629.0 485.9,633.6 C491.5,638.1 498.0,644.9 502.8,650.5 C507.6,656.2 510.8,661.2 514.7,667.5 C518.7,673.7 522.9,681.6 526.6,687.8 C530.2,694.0 533.4,699.4 536.7,704.7 C540.1,710.1 543.5,715.5 546.9,720.0 C550.3,724.5 554.0,729.2 557.1,731.9 C560.2,734.5 562.7,735.5 565.6,736.1 C568.4,736.7 570.9,736.4 574.0,735.3 C577.1,734.1 580.5,730.6 584.2,729.3 C587.9,728.1 591.4,727.6 596.1,727.6 C600.7,727.6 605.1,729.3 612.0,729.3 C618.9,729.3 628.9,728.1 637.4,727.6 C645.9,727.2 655.8,726.9 662.8,726.8 C669.9,726.7 674.1,726.7 679.8,727.1 C685.4,727.5 691.1,728.5 696.7,729.3 C702.4,730.1 708.0,731.0 713.7,731.9 C719.3,732.7 725.0,733.8 730.6,734.4 C736.3,735.1 740.7,735.6 747.6,735.8 C754.5,735.9 765.1,735.7 772.0,735.5 C778.9,735.3 783.3,735.6 788.9,734.4 C794.6,733.2 800.2,731.4 805.9,728.5 C811.5,725.5 817.8,720.8 822.8,716.6 C827.9,712.4 832.2,707.9 836.4,703.1 C840.6,698.2 844.3,693.2 848.3,687.8 C852.2,682.4 856.5,676.2 860.1,670.8 C863.8,665.5 866.6,660.1 870.3,655.6 C874.0,651.1 877.9,647.4 882.2,643.7 C886.4,640.1 890.5,636.8 895.7,633.6 C901.0,630.3 909.0,626.4 913.8,624.2 C918.6,622.1 921.6,621.2 924.5,620.5 C927.5,619.8 930.2,620.1 931.3,620.0"/><path d="M459.6,206.2 C461.1,207.5 466.0,212.3 468.9,214.1 C471.9,215.8 473.8,216.9 477.4,216.6 C481.1,216.3 486.2,214.2 491.0,212.4 C495.8,210.5 501.4,208.4 506.2,205.6 C511.0,202.8 515.6,199.1 519.8,195.4 C524.0,191.8 527.7,187.8 531.7,183.6 C535.6,179.3 539.9,173.4 543.5,169.8 C547.1,166.3 550.2,164.5 553.2,162.0 C556.2,159.6 558.4,157.4 561.7,155.3 C564.9,153.1 569.9,149.5 572.7,149.3 C575.5,149.2 576.5,152.7 578.6,154.4 C580.7,156.1 583.0,158.8 585.4,159.5 C587.8,160.2 590.6,159.8 593.0,158.6 C595.4,157.5 597.7,154.5 599.8,152.7 C601.9,150.9 603.7,148.8 605.7,147.6 C607.8,146.5 608.8,146.2 612.0,146.0 C615.2,145.7 620.5,145.4 624.7,146.0 C628.9,146.7 633.2,148.5 637.4,149.8 C641.7,151.2 646.6,152.8 650.1,154.1 C653.7,155.3 655.8,156.2 658.6,157.5 C661.4,158.7 664.3,160.3 667.1,161.7 C669.9,163.1 673.2,165.2 675.6,165.9 C678.0,166.6 678.8,167.0 681.5,165.9 C684.2,164.9 688.8,160.7 692.0,159.4 C695.2,158.2 696.9,158.5 700.5,158.5 C704.0,158.5 708.9,159.0 713.2,159.3 C717.4,159.6 721.0,160.2 725.9,160.2 C730.8,160.2 737.2,159.6 742.8,159.3 C748.5,159.0 754.9,158.5 759.8,158.5 C764.7,158.4 767.8,158.7 772.0,159.0 C776.2,159.2 781.2,159.1 784.7,159.9 C788.2,160.7 790.7,162.1 793.2,163.7 C795.7,165.3 796.1,166.1 799.6,169.4 C803.1,172.7 809.6,178.9 814.4,183.6 C819.1,188.2 823.7,193.2 827.9,197.1 C832.2,201.1 835.6,204.3 839.8,207.3 C844.0,210.3 848.8,212.8 853.4,214.9 C857.9,217.0 862.4,218.6 866.9,220.0 C871.4,221.4 876.5,222.7 880.5,223.4 C884.4,224.1 886.7,224.7 890.6,224.2 C894.6,223.8 900.0,222.5 904.2,220.8 C908.4,219.2 912.7,216.3 916.1,214.1 C919.5,211.8 922.0,208.9 924.5,207.3 C927.1,205.7 930.2,204.9 931.3,204.4"/><path d="M931.3,822.9 C926.0,823.0 908.7,823.0 899.1,823.4 C889.5,823.8 880.8,824.2 873.7,825.1 C866.6,825.9 862.4,827.6 856.7,828.5 C851.1,829.3 845.4,830.0 839.8,830.2 C834.1,830.3 828.5,829.9 822.8,829.3 C817.2,828.8 811.5,827.6 805.9,826.8 C800.2,826.0 794.6,825.1 788.9,824.6 C783.3,824.1 780.3,824.0 772.0,823.9 C763.7,823.8 748.8,824.0 739.1,824.2 C729.4,824.4 722.2,824.7 713.7,825.1 C705.2,825.5 696.7,826.2 688.3,826.8 C679.8,827.3 671.3,828.0 662.8,828.5 C654.4,829.0 645.9,829.5 637.4,829.7 C628.9,829.8 620.3,829.0 612.0,829.3 C603.7,829.7 594.5,831.6 587.6,831.9 C580.7,832.1 576.3,831.7 570.6,831.0 C565.0,830.3 560.8,828.3 553.7,827.6 C546.6,826.9 536.7,827.1 528.3,826.8 C519.8,826.5 511.3,826.4 502.8,825.9 C494.4,825.5 485.9,824.7 477.4,824.2 C468.9,823.8 460.3,823.7 452.0,823.4 C443.7,823.1 434.5,822.4 427.6,822.2 C420.7,822.0 416.3,821.9 410.6,822.2 C405.0,822.5 399.3,823.2 393.7,824.2 C388.0,825.3 381.3,827.6 376.7,828.5 C372.2,829.3 370.8,829.5 366.6,829.3 C362.3,829.2 356.7,828.1 351.3,827.6 C346.0,827.2 341.4,826.8 334.4,826.8 C327.3,826.8 316.0,827.4 308.9,827.6 C301.9,827.8 297.5,828.0 292.0,828.1 C286.5,828.1 281.5,828.1 276.1,828.1 C270.6,828.2 266.2,828.3 259.1,828.5 C252.1,828.7 242.2,829.2 233.7,829.3 C225.2,829.5 216.7,829.7 208.3,829.3 C199.8,828.9 191.3,827.6 182.8,826.8 C174.4,825.9 164.9,824.8 157.4,824.2 C150.0,823.7 141.4,823.5 138.2,823.4"/><path d="M138.2,807.3 C141.4,807.6 150.0,808.4 157.4,809.0 C164.9,809.5 174.4,810.4 182.8,810.7 C191.3,811.0 199.8,810.8 208.3,810.7 C216.7,810.5 225.2,810.1 233.7,809.8 C242.2,809.5 252.1,809.4 259.1,809.0 C266.2,808.6 270.6,807.8 276.1,807.3 C281.5,806.8 286.5,806.0 292.0,806.0 C297.5,806.0 303.3,806.8 308.9,807.3 C314.6,807.8 320.2,808.5 325.9,809.0 C331.5,809.5 337.2,810.1 342.8,810.3 C348.5,810.6 354.1,810.9 359.8,810.7 C365.4,810.5 371.1,809.7 376.7,809.0 C382.4,808.3 386.6,807.4 393.7,806.4 C400.8,805.5 409.4,803.9 419.1,803.1 C428.8,802.2 442.3,801.6 452.0,801.4 C461.7,801.2 468.9,801.4 477.4,801.9 C485.9,802.3 495.2,803.1 502.8,803.9 C510.5,804.7 516.1,805.9 523.2,806.4 C530.2,807.0 537.3,807.3 545.2,807.3 C553.1,807.3 562.2,806.7 570.6,806.4 C579.1,806.2 589.2,805.7 596.1,805.6 C603.0,805.5 605.1,805.5 612.0,805.6 C618.9,805.6 628.9,805.8 637.4,805.9 C645.9,806.0 654.4,806.2 662.8,806.1 C671.3,806.0 679.8,805.8 688.3,805.6 C696.7,805.4 705.2,804.8 713.7,804.7 C722.2,804.7 732.1,805.0 739.1,805.3 C746.2,805.5 750.6,806.0 756.1,806.4 C761.5,806.9 765.1,807.5 772.0,807.7 C778.9,807.9 788.9,807.6 797.4,807.6 C805.9,807.7 815.2,808.2 822.8,808.1 C830.5,808.0 837.6,807.5 843.2,806.9 C848.8,806.4 854.1,805.2 856.2,804.8"/><path d="M931.3,850.0 C927.4,850.0 914.4,850.2 907.6,850.0 C900.8,849.8 896.3,849.4 890.6,848.8 C885.0,848.2 879.3,847.0 873.7,846.3 C868.0,845.6 862.4,844.9 856.7,844.6 C851.1,844.3 845.4,844.9 839.8,844.6 C834.1,844.3 828.5,843.9 822.8,842.9 C817.2,841.9 811.5,840.0 805.9,838.6 C800.2,837.3 794.6,835.5 788.9,834.7 C783.3,834.0 778.9,834.4 772.0,834.4 C765.1,834.4 754.5,834.5 747.6,834.7 C740.7,835.0 736.3,835.5 730.6,836.1 C725.0,836.8 719.3,837.5 713.7,838.6 C708.0,839.8 702.4,841.3 696.7,842.9 C691.1,844.4 685.4,846.1 679.8,848.0 C674.1,849.8 668.5,852.1 662.8,853.9 C657.2,855.7 651.5,857.4 645.9,859.0 C640.2,860.5 634.6,862.4 628.9,863.2 C623.3,864.0 616.6,863.8 612.0,863.6 C607.4,863.5 605.2,863.3 601.2,862.4 C597.1,861.5 592.7,859.4 587.6,858.1 C582.5,856.9 576.3,855.3 570.6,854.7 C565.0,854.2 559.3,855.0 553.7,854.7 C548.0,854.5 542.4,853.9 536.7,853.1 C531.1,852.2 525.4,850.4 519.8,849.7 C514.1,849.0 509.9,848.8 502.8,848.8 C495.8,848.9 485.9,849.8 477.4,850.0 C468.9,850.2 458.9,850.2 452.0,850.3 C445.1,850.3 441.5,850.6 436.1,850.5 C430.6,850.4 424.8,850.4 419.1,849.7 C413.5,849.0 407.8,847.7 402.2,846.3 C396.5,844.9 390.3,842.5 385.2,841.2 C380.1,839.9 375.9,838.8 371.7,838.6 C367.4,838.5 364.6,839.1 359.8,840.3 C355.0,841.6 348.5,844.2 342.8,846.3 C337.2,848.4 331.5,850.6 325.9,853.1 C320.2,855.5 314.6,858.9 308.9,860.7 C303.3,862.4 297.5,863.4 292.0,863.6 C286.5,863.9 281.5,863.3 276.1,862.4 C270.6,861.5 266.2,860.1 259.1,858.1 C252.1,856.2 242.2,853.2 233.7,850.5 C225.2,847.8 216.7,844.3 208.3,842.0 C199.8,839.8 191.3,838.1 182.8,836.9 C174.4,835.8 164.9,835.2 157.4,834.9 C150.0,834.6 141.4,835.2 138.2,835.3"/><path d="M931.3,372.9 C929.9,371.4 925.7,367.5 922.8,364.1 C920.0,360.6 917.5,356.0 914.4,352.2 C911.3,348.4 907.0,343.4 904.2,341.2 C901.4,338.9 900.2,338.6 897.4,338.6 C894.6,338.6 891.2,339.1 887.3,341.2 C883.3,343.3 878.8,347.8 873.7,351.4 C868.6,354.9 862.4,359.1 856.7,362.4 C851.1,365.6 845.4,368.4 839.8,370.8 C834.1,373.2 828.5,375.2 822.8,376.8 C817.2,378.3 811.5,379.2 805.9,380.2 C800.2,381.2 794.6,382.1 788.9,382.7 C783.3,383.3 780.3,383.3 772.0,383.6 C763.7,383.8 748.8,383.8 739.1,384.1 C729.4,384.4 722.2,384.9 713.7,385.3 C705.2,385.6 696.7,385.9 688.3,386.1 C679.8,386.3 671.3,386.5 662.8,386.6 C654.4,386.8 645.9,387.0 637.4,386.9 C628.9,386.9 620.3,386.4 612.0,386.1 C603.7,385.8 593.9,385.8 587.6,385.3 C581.3,384.7 578.3,384.3 574.0,382.7 C569.8,381.2 567.0,378.5 562.2,375.9 C557.4,373.4 550.9,370.3 545.2,367.5 C539.6,364.6 533.9,361.9 528.3,359.0 C522.6,356.0 516.7,352.8 511.3,349.7 C506.0,346.6 499.7,342.3 496.1,340.3 C492.4,338.4 491.5,337.5 489.3,337.8 C487.0,338.1 485.9,338.2 482.5,342.0 C479.1,345.8 472.9,355.6 468.9,360.7 C465.0,365.8 461.6,370.6 458.8,372.5 C456.0,374.5 453.8,373.1 452.0,372.5 C450.2,372.0 449.7,371.7 447.9,369.2 C446.1,366.6 443.7,361.4 441.2,357.3 C438.6,353.2 435.5,347.7 432.7,344.6 C429.9,341.5 427.3,339.2 424.2,338.6 C421.1,338.1 417.7,338.9 414.0,341.2 C410.4,343.4 407.0,348.7 402.2,352.2 C397.4,355.7 390.9,359.3 385.2,362.4 C379.6,365.5 373.9,368.0 368.3,370.8 C362.6,373.7 357.0,376.2 351.3,379.3 C345.7,382.4 340.0,386.1 334.4,389.5 C328.7,392.9 323.1,396.6 317.4,399.7 C311.8,402.8 304.7,406.5 300.5,408.1 C296.2,409.8 295.5,409.4 292.0,409.4 C288.5,409.4 284.9,409.1 279.5,408.1 C274.0,407.2 266.7,405.5 259.1,403.9 C251.5,402.3 242.2,400.4 233.7,398.8 C225.2,397.3 216.7,395.8 208.3,394.6 C199.8,393.3 191.3,391.8 182.8,391.2 C174.4,390.6 164.9,390.7 157.4,390.8 C150.0,391.0 141.4,391.8 138.2,392.0"/><path d="M931.3,244.6 C930.2,244.0 927.1,241.9 924.5,241.2 C922.0,240.5 918.9,239.9 916.1,240.3 C913.2,240.8 910.4,243.6 907.6,243.7 C904.8,243.9 902.5,241.3 899.1,241.2 C895.7,241.0 891.5,241.0 887.3,242.9 C883.0,244.7 877.1,250.5 873.7,252.2 C870.3,253.9 870.3,253.5 866.9,253.1 C863.5,252.6 857.9,251.2 853.4,249.7 C848.8,248.1 844.9,245.0 839.8,243.7 C834.7,242.5 828.5,241.9 822.8,242.0 C817.2,242.2 811.5,243.6 805.9,244.6 C800.2,245.6 794.6,247.3 788.9,248.0 C783.3,248.7 776.6,248.7 772.0,248.8 C767.4,249.0 765.2,249.5 761.2,248.8 C757.1,248.1 752.1,247.0 747.6,244.6 C743.1,242.2 738.6,238.4 734.0,234.4 C729.5,230.5 725.0,225.6 720.5,220.8 C716.0,216.0 711.4,210.7 706.9,205.6 C702.4,200.5 697.6,195.0 693.4,190.3 C689.1,185.7 684.6,179.9 681.5,177.6 C678.4,175.4 677.8,176.1 674.7,176.8 C671.6,177.5 667.6,179.3 662.8,181.9 C658.0,184.4 651.5,189.2 645.9,192.0 C640.2,194.9 634.6,197.4 628.9,198.8 C623.3,200.2 615.8,200.4 612.0,200.5 C608.2,200.6 608.9,201.1 606.2,199.7 C603.6,198.2 599.5,193.9 596.1,192.0 C592.7,190.2 588.7,188.6 585.9,188.6 C583.1,188.6 582.2,189.5 579.1,192.0 C576.0,194.6 571.5,199.1 567.3,203.9 C563.0,208.7 557.9,215.8 553.7,220.8 C549.5,225.9 546.1,230.2 541.8,234.4 C537.6,238.6 532.5,243.2 528.3,246.3 C524.0,249.4 519.8,252.2 516.4,253.1 C513.0,253.9 511.3,252.8 507.9,251.4 C504.5,249.9 500.3,245.3 496.1,244.6 C491.8,243.9 487.0,247.4 482.5,247.1 C478.0,246.8 474.0,243.3 468.9,242.9 C463.9,242.5 455.8,245.0 452.0,244.6 C448.2,244.2 448.3,241.2 446.2,240.3 C444.1,239.5 441.7,239.1 439.5,239.5 C437.2,239.9 435.2,242.3 432.7,242.9 C430.1,243.4 427.3,243.3 424.2,242.9 C421.1,242.5 417.7,239.8 414.0,240.3 C410.4,240.9 405.6,244.9 402.2,246.3 C398.8,247.7 397.4,249.1 393.7,248.8 C390.0,248.5 384.4,246.7 380.1,244.6 C375.9,242.5 372.2,239.5 368.3,236.1 C364.3,232.7 360.6,229.0 356.4,224.2 C352.2,219.4 346.8,212.1 342.8,207.3 C338.9,202.5 336.1,198.4 332.7,195.4 C329.3,192.5 325.9,189.8 322.5,189.5 C319.1,189.2 315.7,192.0 312.3,193.7 C308.9,195.4 305.6,198.5 302.2,199.7 C298.8,200.8 295.8,200.5 292.0,200.5 C288.2,200.5 283.5,200.5 279.5,199.7 C275.4,198.8 272.4,197.7 267.6,195.4 C262.8,193.2 256.3,189.6 250.6,186.1 C245.0,182.6 237.6,176.4 233.7,174.2 C229.7,172.1 229.7,171.8 226.9,173.4 C224.1,174.9 221.3,178.8 216.7,183.6 C212.2,188.4 205.4,196.0 199.8,202.2 C194.1,208.4 188.5,215.2 182.8,220.8 C177.2,226.5 171.5,231.9 165.9,236.1 C160.2,240.3 153.6,244.2 148.9,246.3 C144.3,248.4 140.0,248.4 138.2,248.8"/><path d="M383.0,13.4 C383.3,13.8 383.4,13.4 384.7,15.9 C386.0,18.5 388.8,24.7 390.6,28.6 C392.5,32.6 393.9,35.7 395.7,39.7 C397.6,43.6 399.7,48.1 401.7,52.4 C403.6,56.6 405.8,61.1 407.6,65.1 C409.4,69.0 410.9,71.9 412.7,76.1 C414.4,80.3 416.8,87.1 418.2,90.0 C419.6,92.9 419.8,92.0 421.2,93.4 C422.5,94.8 423.8,97.5 426.2,98.5 C428.6,99.5 432.7,98.9 435.6,99.3 C438.4,99.7 440.4,100.4 443.2,101.0 C445.9,101.6 449.4,102.6 452.0,102.9 C454.6,103.3 456.0,103.7 458.8,103.1 C461.6,102.5 465.8,100.2 468.9,99.3 C472.1,98.5 474.9,98.3 477.4,98.1 C480.0,97.8 482.0,98.9 484.2,97.6 C486.4,96.4 488.5,94.0 490.7,90.4 C492.8,86.8 494.6,81.3 496.9,76.1 C499.2,70.9 502.1,64.4 504.5,59.2 C506.9,53.9 509.1,49.0 511.3,44.7 C513.6,40.5 516.1,37.5 518.1,33.7 C520.1,29.9 521.6,25.5 523.2,21.9 C524.7,18.2 526.7,13.4 527.4,11.7"/><path d="M931.3,249.7 C928.8,251.1 920.6,256.4 916.1,258.1 C911.5,259.8 908.4,258.7 904.2,259.8 C900.0,261.0 895.7,262.1 890.6,264.9 C885.6,267.7 879.3,272.3 873.7,276.8 C868.0,281.3 862.4,287.2 856.7,292.0 C851.1,296.8 845.4,301.9 839.8,305.6 C834.1,309.3 829.9,311.4 822.8,314.1 C815.8,316.8 805.9,320.0 797.4,321.7 C788.9,323.4 783.1,323.7 772.0,324.2 C760.9,324.8 743.2,324.8 730.6,325.1 C718.1,325.4 706.6,325.5 696.7,325.9 C686.9,326.4 679.8,326.5 671.3,327.6 C662.8,328.8 653.5,330.9 645.9,332.7 C638.3,334.5 631.2,337.5 625.6,338.6 C619.9,339.8 615.5,339.8 612.0,339.5 C608.5,339.2 607.5,338.6 604.5,336.9 C601.5,335.3 598.2,332.7 594.0,329.5 C589.8,326.2 584.4,321.4 579.1,317.5 C573.8,313.5 567.5,309.3 562.2,305.6 C556.8,301.9 551.7,298.8 546.9,295.4 C542.1,292.0 537.9,288.5 533.4,285.3 C528.8,282.0 524.0,277.9 519.8,275.9 C515.6,274.0 512.2,274.2 507.9,273.4 C503.7,272.5 498.9,272.5 494.4,270.8 C489.9,269.2 485.1,265.1 480.8,263.2 C476.6,261.4 472.3,261.8 468.9,259.8 C465.6,257.9 463.3,253.0 460.5,251.4 C457.6,249.7 455.8,249.2 451.8,250.2 C447.7,251.2 440.7,255.7 436.1,257.3 C431.5,258.9 428.4,257.4 424.2,259.8 C420.0,262.2 414.3,268.9 410.6,271.7 C407.0,274.5 405.6,275.6 402.2,276.8 C398.8,277.9 394.5,277.1 390.3,278.5 C386.1,279.9 381.8,282.1 376.7,285.3 C371.7,288.4 366.9,292.0 359.8,297.1 C352.7,302.2 340.9,311.1 334.4,315.8 C327.8,320.4 324.8,322.0 320.6,324.9 C316.4,327.9 312.6,331.1 308.9,333.6 C305.3,336.0 301.6,338.4 298.8,339.5 C296.0,340.6 294.9,340.1 292.0,339.9 C289.1,339.8 285.2,339.4 281.2,338.6 C277.1,337.9 272.7,336.7 267.6,335.3 C262.5,333.8 257.7,332.0 250.6,330.2 C243.6,328.3 233.7,325.4 225.2,324.2 C216.7,323.1 209.7,323.1 199.8,323.1 C189.9,323.0 176.2,323.5 165.9,323.7 C155.6,323.9 142.8,324.2 138.2,324.2"/><path d="M931.3,386.9 C927.4,386.9 914.4,386.7 907.6,386.4 C900.8,386.2 896.3,385.7 890.6,385.3 C885.0,384.8 879.3,384.3 873.7,383.6 C868.0,382.9 863.0,381.7 856.7,381.0 C850.5,380.3 842.1,379.5 836.4,379.3 C830.8,379.2 827.9,379.2 822.8,380.2 C817.8,381.2 811.5,383.6 805.9,385.3 C800.2,386.9 794.6,389.2 788.9,390.3 C783.3,391.5 777.5,391.9 772.0,392.0 C766.5,392.2 763.0,391.2 756.1,391.2 C749.2,391.2 739.1,391.8 730.6,392.0 C722.2,392.3 713.7,392.3 705.2,392.9 C696.7,393.4 688.3,394.3 679.8,395.4 C671.3,396.6 662.8,398.0 654.4,399.7 C645.9,401.4 636.1,404.1 628.9,405.6 C621.8,407.1 615.8,408.3 611.8,408.5 C607.7,408.6 608.0,407.9 604.5,406.4 C601.1,405.0 595.5,402.2 591.0,399.7 C586.5,397.1 581.4,393.3 577.4,391.2 C573.5,389.1 572.6,387.9 567.3,386.9 C561.9,386.0 553.1,385.7 545.2,385.3 C537.3,384.8 528.3,384.4 519.8,384.4 C511.3,384.4 502.8,384.8 494.4,385.3 C485.9,385.7 476.0,386.6 468.9,386.9 C461.8,387.3 455.3,387.1 451.8,387.5 C448.3,387.9 450.5,387.5 447.9,389.5 C445.3,391.5 440.9,395.6 436.1,399.7 C431.3,403.8 424.8,409.7 419.1,414.1 C413.5,418.4 407.8,422.8 402.2,425.9 C396.5,429.0 390.9,431.3 385.2,432.7 C379.6,434.1 373.9,434.4 368.3,434.4 C362.6,434.4 357.0,433.8 351.3,432.7 C345.7,431.6 340.0,429.6 334.4,427.6 C328.7,425.6 323.1,423.3 317.4,420.8 C311.8,418.4 304.7,414.4 300.5,412.9 C296.2,411.3 295.5,411.8 292.0,411.5 C288.5,411.3 284.9,410.8 279.5,411.5 C274.0,412.2 266.7,414.1 259.1,415.8 C251.5,417.5 242.2,419.6 233.7,421.7 C225.2,423.8 216.7,425.9 208.3,428.5 C199.8,431.0 191.3,434.0 182.8,436.9 C174.4,439.9 164.9,444.0 157.4,446.3 C150.0,448.5 141.4,449.8 138.2,450.5"/><path d="M931.7,102.7 C930.4,102.5 926.3,102.0 924.0,101.4 C921.8,100.9 920.9,100.0 918.1,99.3 C915.3,98.6 910.6,98.4 907.1,97.2 C903.6,96.0 900.3,94.7 897.0,92.0 C893.7,89.4 890.6,85.3 887.3,81.2 C883.9,77.1 880.5,71.3 877.1,67.6 C873.7,64.0 870.3,62.0 866.9,59.2 C863.5,56.3 860.1,53.6 856.7,50.7 C853.4,47.7 849.1,42.5 846.6,41.4 C844.0,40.2 843.5,42.1 841.5,43.9 C839.5,45.7 837.0,50.5 834.7,52.4 C832.5,54.2 830.5,55.5 827.9,54.9 C825.4,54.4 823.1,51.7 819.5,49.0 C815.8,46.3 811.0,41.6 805.9,38.8 C800.8,36.0 794.6,33.4 788.9,32.0 C783.3,30.7 776.6,31.2 772.0,30.8 C767.4,30.3 765.2,30.4 761.2,29.5 C757.1,28.6 752.1,27.2 747.6,25.3 C743.1,23.3 737.4,19.0 734.0,17.6 C730.6,16.2 729.5,16.1 727.3,16.8 C725.0,17.5 723.3,19.0 720.5,21.9 C717.6,24.7 714.3,29.2 710.3,33.7 C706.4,38.2 701.8,43.6 696.7,49.0 C691.7,54.4 685.4,60.8 679.8,65.9 C674.1,71.0 668.5,75.3 662.8,79.5 C657.2,83.7 652.1,87.5 645.9,91.4 C639.7,95.2 631.2,100.2 625.6,102.4 C619.9,104.6 615.2,104.6 611.8,104.5 C608.3,104.5 607.2,103.2 604.9,101.9 C602.6,100.6 600.4,98.5 598.1,96.8 C595.8,95.1 593.9,92.8 591.3,91.7 C588.8,90.6 585.8,91.8 582.8,90.0 C579.9,88.2 576.1,84.1 573.5,81.2 C571.0,78.3 569.9,76.2 567.6,72.7 C565.3,69.2 562.4,64.0 560.0,60.0 C557.6,56.0 555.4,52.5 553.2,49.0 C550.9,45.5 548.5,41.8 546.4,38.8 C544.3,35.8 542.0,33.9 540.5,31.2 C538.9,28.5 538.2,25.8 537.1,22.7 C536.0,19.6 534.3,14.2 533.7,12.5"/><path d="M931.3,389.2 C930.2,390.2 927.1,392.8 924.5,395.3 C922.0,397.7 920.3,400.3 916.1,403.7 C911.8,407.1 904.8,411.9 899.1,415.6 C893.5,419.3 887.8,422.6 882.2,425.8 C876.5,428.9 870.9,431.8 865.2,434.4 C859.6,437.0 852.5,439.6 848.3,441.4 C844.0,443.1 844.0,444.0 839.8,445.1 C835.6,446.2 828.5,447.3 822.8,448.1 C817.2,448.9 811.5,449.4 805.9,449.8 C800.2,450.2 794.6,450.4 788.9,450.5 C783.3,450.6 779.5,450.6 772.0,450.5 C764.5,450.4 751.7,450.5 744.2,449.7 C736.7,448.8 733.8,447.5 727.3,445.4 C720.8,443.3 713.1,439.9 705.2,436.9 C697.3,434.0 688.3,430.5 679.8,427.6 C671.3,424.8 662.8,422.3 654.4,420.0 C645.9,417.7 636.0,415.3 628.9,414.1 C621.9,412.8 617.5,411.9 612.0,412.4 C606.5,412.8 602.4,414.5 596.1,416.6 C589.7,418.7 581.1,422.5 574.0,425.1 C567.0,427.6 560.5,430.5 553.7,431.9 C546.9,433.3 540.4,434.3 533.4,433.6 C526.3,432.9 518.4,430.5 511.3,427.6 C504.3,424.8 497.2,420.4 491.0,416.6 C484.8,412.8 479.1,409.0 474.0,404.7 C468.9,400.5 464.1,394.2 460.5,391.2 C456.8,388.2 457.5,387.9 452.0,386.9 C446.5,386.0 435.9,385.7 427.6,385.3 C419.3,384.8 410.6,384.4 402.2,384.1 C393.7,383.8 383.8,383.6 376.7,383.6 C369.7,383.5 365.4,383.7 359.8,383.6 C354.1,383.4 348.5,382.7 342.8,382.7 C337.2,382.7 331.5,383.1 325.9,383.6 C320.2,384.0 314.6,384.8 308.9,385.3 C303.3,385.7 298.9,386.1 292.0,386.1 C285.1,386.1 277.3,385.5 267.6,385.3 C257.9,385.0 245.0,384.5 233.7,384.4 C222.4,384.3 211.1,384.4 199.8,384.4 C188.5,384.4 176.2,384.5 165.9,384.4 C155.6,384.3 142.8,383.7 138.2,383.6"/><path d="M138.2,961.2 C142.8,960.8 155.6,960.5 165.9,958.6 C176.2,956.8 188.5,953.3 199.8,950.2 C211.1,947.1 223.8,942.8 233.7,940.0 C243.6,937.2 252.1,934.8 259.1,933.2 C266.2,931.7 270.6,931.1 276.1,930.7 C281.5,930.2 286.5,930.3 292.0,930.6 C297.5,930.8 303.3,931.7 308.9,932.2 C314.6,932.8 320.2,934.2 325.9,933.9 C331.5,933.6 337.2,931.8 342.8,930.5 C348.5,929.2 355.6,926.8 359.8,926.3 C364.0,925.7 364.9,925.8 368.3,927.1 C371.7,928.4 375.9,930.8 380.1,933.9 C384.4,937.0 389.2,941.8 393.7,945.8 C398.2,949.7 402.7,953.8 407.3,957.6 C411.8,961.4 416.0,965.4 420.8,968.6 C425.6,971.9 430.9,975.0 436.1,977.1 C441.3,979.2 446.5,980.9 452.0,981.4 C457.5,981.8 463.3,981.1 468.9,979.7 C474.6,978.2 480.2,976.0 485.9,972.9 C491.5,969.8 497.2,965.5 502.8,961.0 C508.5,956.5 514.7,950.0 519.8,945.8 C524.9,941.5 528.8,937.9 533.4,935.6 C537.9,933.3 542.1,932.3 546.9,931.9 C551.7,931.4 556.8,932.4 562.2,933.1 C567.5,933.7 573.5,935.6 579.1,935.6 C584.8,935.6 590.6,933.9 596.1,933.1 C601.5,932.2 603.7,930.2 612.0,930.3 C620.3,930.5 634.6,931.9 645.9,933.9 C657.2,935.9 668.5,939.3 679.8,942.4 C691.1,945.5 702.4,949.7 713.7,952.5 C725.0,955.4 736.9,957.9 747.6,959.3 C758.3,960.7 770.8,961.3 778.1,961.0 C785.4,960.7 786.6,960.2 791.7,957.6 C796.7,955.1 803.0,949.3 808.6,945.8 C814.3,942.3 821.0,938.3 825.6,936.6 C830.1,934.9 831.8,934.9 835.7,935.6 C839.7,936.3 843.6,937.6 849.3,940.7 C854.9,943.8 862.3,949.4 869.6,954.2 C877.0,959.0 886.0,965.5 893.4,969.5 C900.7,973.4 907.5,976.1 913.7,978.0 C919.9,979.8 927.8,980.2 930.6,980.7"/><path d="M138.2,31.2 C140.0,31.1 144.9,31.2 148.9,30.7 C153.0,30.1 158.3,29.1 162.5,27.8 C166.7,26.5 170.8,24.4 174.4,22.7 C177.9,21.0 181.2,18.2 183.7,17.6 C186.2,17.1 186.9,16.9 189.6,19.3 C192.3,21.7 195.8,27.1 199.8,32.0 C203.8,37.0 208.8,43.9 213.4,49.0 C217.9,54.1 222.1,57.7 226.9,62.5 C231.7,67.3 236.8,73.3 242.2,77.8 C247.5,82.3 253.5,86.0 259.1,89.7 C264.8,93.3 270.6,97.3 276.1,99.8 C281.5,102.4 288.4,104.0 292.0,104.9 C295.6,105.7 295.8,105.6 297.9,104.8 C300.1,104.0 302.2,101.9 304.7,100.2 C307.3,98.4 310.4,95.8 313.2,94.2 C316.0,92.7 319.3,91.6 321.7,90.8 C324.1,90.1 326.2,90.8 327.6,90.0 C329.0,89.2 329.0,87.9 330.1,86.3 C331.3,84.7 332.3,83.4 334.4,80.3 C336.5,77.2 340.0,71.9 342.8,67.6 C345.7,63.4 348.2,59.4 351.3,54.9 C354.4,50.4 358.7,44.7 361.5,40.5 C364.3,36.3 366.5,33.3 368.3,29.5 C370.0,25.7 371.2,20.3 372.0,17.6 C372.8,14.9 373.1,14.1 373.4,13.4"/><path d="M407.6,13.4 C407.7,13.8 407.6,13.7 408.4,15.9 C409.3,18.2 411.0,22.6 412.7,26.9 C414.4,31.3 416.6,37.4 418.6,42.2 C420.6,47.0 422.4,51.2 424.5,55.8 C426.7,60.3 429.1,65.6 431.3,69.3 C433.6,73.0 435.8,75.8 438.1,77.8 C440.4,79.8 442.6,80.6 444.9,81.2 C447.2,81.8 449.4,81.3 452.0,81.2 C454.6,81.1 457.6,81.6 460.5,80.8 C463.3,79.9 466.4,78.3 468.9,76.1 C471.5,73.9 473.6,70.7 475.7,67.6 C477.8,64.5 479.7,61.4 481.7,57.5 C483.6,53.5 485.8,48.3 487.6,43.9 C489.4,39.5 491.1,35.1 492.7,31.2 C494.2,27.2 495.8,23.4 496.9,20.2 C498.0,16.9 499.0,13.1 499.5,11.7"/><path d="M819.5,13.4 C820.0,13.8 820.9,14.4 822.8,15.9 C824.8,17.5 828.5,20.5 831.3,22.7 C834.1,25.0 837.5,28.4 839.8,29.5 C842.1,30.6 842.9,30.6 844.9,29.5 C846.9,28.4 849.4,24.3 851.7,22.7 C853.9,21.2 856.5,20.3 858.4,20.2 C860.4,20.0 861.0,19.3 863.5,21.9 C866.1,24.4 870.6,31.8 873.7,35.4 C876.8,39.1 878.8,40.8 882.2,43.9 C885.6,47.0 890.4,50.4 894.0,54.1 C897.7,57.7 900.8,62.1 904.2,65.9 C907.6,69.7 911.3,74.5 914.4,76.9 C917.5,79.4 920.2,79.6 922.8,80.3 C925.5,81.0 929.2,81.0 930.5,81.2"/></g>
<g stroke="#00f"><path d="M138.2,113.3 C141.4,113.5 151.4,114.3 157.4,114.6 C163.5,114.8 168.7,114.8 174.4,114.7 C180.0,114.7 185.1,114.5 191.3,114.4 C197.6,114.3 202.9,114.1 212.0,114.2 C221.1,114.2 236.0,114.5 245.9,114.6 C255.8,114.6 263.6,114.8 271.3,114.6 C279.0,114.3 287.1,113.2 292.0,113.1 C296.9,113.0 296.9,113.5 300.5,114.2 C304.0,114.8 308.9,116.3 313.2,117.1 C317.4,118.0 322.6,119.1 325.9,119.2 C329.1,119.4 330.4,119.0 332.7,118.0 C334.9,116.9 337.2,115.1 339.5,112.9 C341.7,110.6 344.0,107.4 346.2,104.4 C348.5,101.4 351.2,97.5 353.0,95.1 C354.9,92.7 355.8,91.6 357.3,90.0 C358.7,88.5 360.4,86.1 361.5,85.7 C362.6,85.3 362.9,86.2 364.0,87.5 C365.2,88.9 366.9,91.8 368.3,93.9 C369.6,96.0 370.7,97.3 372.0,100.2 C373.3,103.1 374.5,107.2 376.2,111.2 C377.9,115.1 380.1,119.8 382.2,123.9 C384.3,128.0 386.7,132.4 388.9,135.8 C391.2,139.2 393.9,142.1 395.7,144.2 C397.6,146.4 398.3,148.3 400.0,148.5 C401.7,148.6 403.8,146.8 405.9,145.1 C408.0,143.4 410.4,140.4 412.7,138.3 C414.9,136.2 417.1,133.7 419.5,132.4 C421.9,131.0 424.4,131.0 427.1,130.3 C429.8,129.5 432.7,128.6 435.6,128.1 C438.4,127.7 441.3,127.5 444.0,127.7 C446.8,128.0 449.8,129.3 452.0,129.6 C454.2,129.9 454.3,128.8 457.1,129.4 C459.9,130.0 465.6,132.3 468.9,133.2 C472.3,134.1 474.3,134.4 477.4,134.9 C480.5,135.4 484.8,135.3 487.6,136.2 C490.4,137.0 492.1,138.5 494.4,140.0 C496.6,141.5 498.9,144.0 501.2,145.1 C503.4,146.1 505.5,147.1 507.9,146.4 C510.3,145.6 512.9,143.5 515.6,140.8 C518.2,138.2 521.6,134.2 524.0,130.7 C526.4,127.1 528.7,122.2 530.0,119.7 C531.2,117.1 530.5,117.7 531.5,115.3 C532.6,112.9 534.7,108.6 536.2,105.3 C537.7,101.9 539.3,97.6 540.5,95.1 C541.6,92.5 542.0,91.6 543.0,90.0 C544.0,88.4 545.0,85.4 546.4,85.4 C547.8,85.4 549.7,87.8 551.5,90.0 C553.3,92.2 555.3,95.8 557.4,98.5 C559.5,101.2 562.1,103.8 564.2,106.1 C566.3,108.4 568.2,110.3 570.1,112.0 C572.1,113.7 573.9,115.2 576.1,116.3 C578.2,117.3 580.3,118.1 582.8,118.4 C585.4,118.7 588.5,118.5 591.3,118.0 C594.1,117.5 596.4,116.2 599.8,115.4 C603.2,114.6 607.1,113.3 612.0,113.1 C616.9,112.9 623.3,114.1 628.9,114.2 C634.6,114.4 640.2,114.2 645.9,113.8 C651.5,113.5 657.2,112.5 662.8,112.1 C668.5,111.7 674.9,111.4 679.8,111.3 C684.7,111.1 687.1,111.2 692.0,111.1 C696.9,111.1 703.3,111.0 708.9,111.0 C714.6,111.1 720.2,111.2 725.9,111.4 C731.5,111.7 737.2,112.4 742.8,112.7 C748.5,113.0 754.9,113.1 759.8,113.1 C764.7,113.2 768.6,113.3 772.0,113.2 C775.4,113.2 777.6,113.2 780.5,112.9 C783.3,112.5 786.1,112.0 788.9,111.2 C791.8,110.3 794.6,109.1 797.4,107.8 C800.2,106.5 803.1,105.1 805.9,103.6 C808.7,102.0 811.8,100.0 814.4,98.5 C816.9,96.9 819.0,95.2 821.2,94.2 C823.3,93.3 825.1,92.3 827.1,93.0 C829.1,93.7 830.9,96.3 833.0,98.5 C835.1,100.7 837.5,103.8 839.8,106.1 C842.1,108.4 844.5,110.4 846.6,112.0 C848.7,113.7 850.1,114.3 852.4,116.0 C854.7,117.7 857.7,119.9 860.5,122.2 C863.2,124.5 866.1,127.7 868.9,129.8 C871.8,131.9 874.6,133.6 877.4,134.9 C880.2,136.2 883.1,137.1 885.9,137.5 C888.7,137.8 891.5,137.6 894.4,137.0 C897.2,136.5 900.0,135.0 902.8,134.1 C905.7,133.1 908.5,132.2 911.3,131.5 C914.1,130.8 916.4,130.2 919.8,129.8 C923.2,129.5 929.7,129.5 931.7,129.4"/><path d="M931.3,180.2 C929.6,180.0 925.1,179.7 921.2,179.3 C917.2,178.9 912.1,178.3 907.6,177.6 C903.1,176.9 898.6,175.4 894.0,175.1 C889.5,174.8 883.9,176.2 880.5,175.9 C877.1,175.6 875.4,174.4 873.7,173.4 C872.0,172.4 872.0,172.2 870.5,170.0 C869.0,167.8 866.4,163.2 864.7,160.3 C863.0,157.5 861.9,155.3 860.5,152.7 C859.1,150.2 857.6,147.1 856.2,145.1 C854.9,143.0 854.2,142.5 852.6,140.5 C851.0,138.5 848.7,135.3 846.6,133.2 C844.4,131.2 842.3,128.9 839.8,128.1 C837.3,127.4 834.1,128.0 831.3,128.6 C828.5,129.1 825.7,130.5 822.8,131.5 C820.0,132.6 817.2,134.4 814.4,134.9 C811.5,135.5 809.4,135.3 805.9,134.9 C802.4,134.5 797.4,133.1 793.2,132.4 C788.9,131.6 784.0,130.7 780.5,130.3 C776.9,129.9 775.4,130.0 772.0,130.0 C768.6,129.9 764.7,130.0 759.8,130.1 C754.9,130.2 747.8,130.2 742.8,130.5 C737.9,130.8 734.4,131.3 730.1,131.8 C725.9,132.3 721.7,132.8 717.4,133.5 C713.2,134.1 708.9,135.1 704.7,135.6 C700.5,136.1 695.4,136.2 692.0,136.4 C688.6,136.5 686.8,136.5 684.0,136.3 C681.3,136.0 679.1,135.8 675.6,135.0 C672.0,134.2 667.1,132.5 662.8,131.2 C658.6,129.8 654.4,128.2 650.1,126.9 C645.9,125.7 641.7,124.5 637.4,123.6 C633.2,122.6 628.9,121.8 624.7,121.4 C620.5,121.1 616.2,121.3 612.0,121.4 C607.8,121.5 603.0,121.6 599.8,121.8 C596.6,121.9 595.6,121.9 593.0,122.2 C590.5,122.6 587.6,123.7 584.5,123.9 C581.4,124.1 577.5,123.7 574.4,123.5 C571.3,123.3 568.7,122.6 565.9,122.6 C563.1,122.7 560.2,123.1 557.4,123.9 C554.6,124.7 551.8,126.0 548.9,127.3 C546.1,128.6 543.3,129.4 540.5,131.5 C537.6,133.6 534.0,137.7 532.0,140.0 C530.0,142.3 529.9,143.1 528.3,145.1 C526.7,147.1 524.5,150.3 522.3,151.9 C520.2,153.4 518.0,154.3 515.6,154.4 C513.2,154.5 510.3,152.1 507.9,152.3 C505.5,152.4 503.4,154.1 501.2,155.3 C498.9,156.5 496.5,158.2 494.4,159.5 C492.3,160.8 490.6,162.3 488.4,162.9 C486.3,163.4 484.2,163.2 481.7,162.9 C479.1,162.6 476.7,161.9 473.2,161.2 C469.7,160.5 464.0,159.1 460.5,158.6 C456.9,158.1 455.4,158.5 452.0,158.2 C448.6,157.9 443.2,157.2 439.8,156.9 C436.4,156.7 434.1,156.2 431.3,156.5 C428.5,156.8 425.7,158.0 422.8,158.6 C420.0,159.3 416.9,160.6 414.4,160.3 C411.8,160.1 410.0,158.1 407.6,156.9 C405.2,155.7 402.2,153.6 400.0,153.1 C397.7,152.7 396.2,154.6 394.0,154.4 C391.9,154.2 389.8,153.8 387.3,151.9 C384.7,149.9 381.3,145.2 378.8,142.5 C376.2,139.9 374.0,137.7 372.0,136.0 C370.0,134.3 368.6,133.7 366.6,132.4 C364.5,131.1 362.3,129.4 359.8,128.1 C357.3,126.9 354.1,125.6 351.3,124.7 C348.5,123.9 345.7,123.2 342.8,123.1 C340.0,122.9 337.2,123.4 334.4,123.9 C331.5,124.4 328.7,125.8 325.9,126.0 C323.1,126.2 321.0,125.7 317.4,125.2 C313.9,124.6 308.9,123.4 304.7,122.6 C300.5,121.9 296.9,120.7 292.0,120.7 C287.1,120.7 280.4,121.7 275.6,122.6 C270.7,123.6 267.8,124.7 262.8,126.4 C257.9,128.2 250.8,131.6 245.9,133.2 C241.0,134.8 238.8,136.0 233.2,136.2 C227.5,136.4 217.6,135.1 212.0,134.5 C206.4,133.9 204.7,133.3 199.8,132.4 C194.9,131.5 188.5,129.8 182.8,129.0 C177.2,128.2 171.5,127.8 165.9,127.7 C160.2,127.6 153.6,128.2 148.9,128.6 C144.3,128.9 140.0,129.6 138.2,129.8"/><path d="M931.7,157.8 C928.3,157.9 916.8,158.2 911.3,158.6 C905.8,159.1 902.1,159.9 898.6,160.3 C895.1,160.8 893.0,161.6 890.1,161.2 C887.3,160.8 884.5,159.1 881.7,157.8 C878.8,156.5 876.7,154.7 873.2,153.6 C869.7,152.4 864.0,151.7 860.5,151.0 C856.9,150.3 854.7,149.7 852.0,149.3 C849.3,149.0 847.5,149.3 844.0,148.9 C840.6,148.5 835.6,147.8 831.3,146.8 C827.1,145.7 822.1,143.8 818.6,142.5 C815.1,141.3 813.0,139.9 810.1,139.2 C807.3,138.4 805.9,138.2 801.7,137.9 C797.4,137.6 789.7,137.5 784.7,137.5 C779.8,137.4 776.9,137.4 772.0,137.4 C767.1,137.3 760.4,137.1 755.6,137.3 C750.7,137.5 747.1,138.0 742.8,138.6 C738.6,139.1 734.4,139.9 730.1,140.7 C725.9,141.5 721.7,142.4 717.4,143.2 C713.2,144.0 708.9,144.9 704.7,145.3 C700.5,145.8 695.4,145.8 692.0,145.9 C688.6,146.0 687.5,145.6 684.0,146.0 C680.6,146.4 675.6,147.2 671.3,148.1 C667.1,149.1 662.8,150.3 658.6,151.5 C654.4,152.8 650.1,154.2 645.9,155.8 C641.7,157.3 637.4,159.2 633.2,160.8 C628.9,162.5 624.0,165.0 620.5,165.9 C616.9,166.8 614.1,166.4 611.8,166.2 C609.4,166.0 608.6,165.8 606.6,164.6 C604.6,163.3 602.3,160.9 599.8,158.6 C597.3,156.4 593.9,153.3 591.3,151.0 C588.8,148.8 587.1,146.5 584.5,145.1 C582.0,143.7 579.2,143.0 576.1,142.5 C573.0,142.1 569.0,142.8 565.9,142.5 C562.8,142.3 560.2,141.1 557.4,140.8 C554.6,140.6 551.8,140.1 548.9,140.8 C546.1,141.6 543.3,143.2 540.5,145.1 C537.6,147.0 535.0,150.2 532.0,152.3 C529.0,154.4 525.1,156.0 522.3,157.8 C519.6,159.6 517.9,160.8 515.6,162.9 C513.2,165.0 510.2,168.5 508.1,170.4 C506.0,172.3 506.5,173.6 502.8,174.2 C499.1,174.9 491.5,173.5 485.9,174.2 C480.2,174.9 474.6,177.5 468.9,178.5 C463.3,179.5 456.2,179.9 452.0,180.2 C447.8,180.5 446.8,180.3 444.0,180.3 C441.3,180.2 438.4,180.3 435.6,179.8 C432.7,179.4 429.9,178.5 427.1,177.7 C424.3,176.9 421.4,175.9 418.6,175.2 C415.8,174.5 413.0,174.3 410.1,173.5 C407.3,172.6 404.1,171.4 401.7,170.0 C399.3,168.7 397.8,167.2 395.7,165.4 C393.6,163.7 391.5,161.5 388.9,159.5 C386.4,157.5 383.3,155.5 380.5,153.6 C377.6,151.6 374.7,149.6 372.0,147.6 C369.3,145.6 366.8,142.8 364.0,141.7 C361.3,140.6 359.1,140.7 355.6,140.8 C352.0,141.0 347.1,142.6 342.8,142.5 C338.6,142.5 333.0,140.6 330.1,140.4 C327.3,140.3 328.0,140.5 325.9,141.7 C323.8,142.9 320.2,145.2 317.4,147.6 C314.6,150.0 312.1,153.3 308.9,156.1 C305.8,158.9 301.6,162.9 298.8,164.6 C295.9,166.2 294.9,166.3 291.8,166.0 C288.6,165.7 284.6,164.5 279.8,162.9 C275.0,161.2 268.5,158.2 262.8,156.1 C257.2,154.0 250.8,151.3 245.9,150.2 C241.0,149.0 238.8,149.0 233.2,149.3 C227.5,149.6 217.6,151.7 212.0,151.9 C206.4,152.1 203.9,151.4 199.8,150.6 C195.6,149.7 192.0,148.1 187.1,146.8 C182.1,145.4 175.8,143.8 170.1,142.5 C164.5,141.3 158.5,140.0 153.2,139.2 C147.9,138.3 140.7,137.7 138.2,137.5"/><path d="M138.2,25.6 C139.7,25.0 144.1,22.9 147.3,21.9 C150.5,20.8 154.7,19.7 157.4,19.3 C160.1,19.0 160.8,18.6 163.4,19.8 C165.9,21.1 169.4,24.1 172.7,26.9 C175.9,29.8 180.0,34.4 182.8,37.1 C185.7,39.8 186.8,40.5 189.6,43.1 C192.5,45.6 196.1,49.3 199.8,52.4 C203.5,55.5 207.1,58.6 211.7,61.7 C216.2,64.8 220.4,67.5 226.9,71.0 C233.4,74.5 243.9,80.1 250.6,82.9 C257.4,85.7 260.7,86.7 267.6,88.0 C274.5,89.3 285.8,90.7 292.0,90.7 C298.2,90.7 299.8,88.7 304.7,88.0 C309.7,87.2 316.7,86.5 321.7,86.3 C326.6,86.1 330.1,86.5 334.4,86.7 C338.6,86.9 344.0,87.8 347.1,87.5 C350.2,87.3 350.9,86.9 353.0,85.4 C355.1,83.9 357.5,81.0 359.8,78.6 C362.1,76.2 364.6,73.3 366.6,71.0 C368.6,68.7 370.4,66.4 371.8,64.9 C373.3,63.3 374.0,61.9 375.4,61.7 C376.8,61.4 378.2,61.8 380.5,63.4 C382.7,64.9 386.0,66.6 388.9,71.0 C391.9,75.5 395.7,85.1 398.3,90.0 C400.8,94.9 402.2,96.9 404.2,100.2 C406.2,103.4 408.4,107.1 410.1,109.5 C411.8,111.9 412.8,113.0 414.4,114.6 C415.9,116.1 417.5,118.8 419.5,118.8 C421.4,118.8 424.0,116.4 426.2,114.6 C428.5,112.7 430.8,109.9 433.0,107.8 C435.3,105.7 437.5,103.3 439.8,101.9 C442.1,100.4 444.5,99.6 446.6,98.9 C448.6,98.2 449.1,98.0 452.0,97.8 C454.9,97.7 460.8,97.5 463.9,98.1 C467.0,98.6 468.4,99.5 470.6,101.0 C472.9,102.5 475.3,105.0 477.4,106.9 C479.5,108.9 481.4,111.2 483.4,112.9 C485.3,114.6 487.3,116.7 489.3,117.1 C491.3,117.5 493.2,116.8 495.2,115.4 C497.2,114.0 499.2,111.0 501.2,108.6 C503.1,106.2 504.9,104.2 507.1,101.0 C509.3,97.8 512.0,93.0 514.2,89.6 C516.3,86.1 517.9,83.2 519.8,80.3 C521.7,77.5 523.7,74.7 525.7,72.7 C527.8,70.7 529.5,68.5 532.0,68.5 C534.5,68.5 537.9,70.6 540.5,72.7 C543.0,74.8 544.7,78.9 547.3,81.2 C549.8,83.4 552.6,85.1 555.7,86.3 C558.8,87.4 562.8,87.8 565.9,88.0 C569.0,88.1 571.3,87.3 574.4,87.1 C577.5,86.9 581.0,86.6 584.5,86.7 C588.1,86.8 591.4,86.9 595.6,87.5 C599.7,88.2 603.7,90.1 609.2,90.6 C614.8,91.1 621.4,91.5 628.9,90.5 C636.5,89.5 645.9,87.5 654.4,84.6 C662.8,81.6 671.9,76.9 679.8,72.7 C687.7,68.5 695.6,62.8 701.8,59.2 C708.0,55.5 712.3,52.8 717.1,50.7 C721.9,48.6 726.7,47.0 730.6,46.4 C734.6,45.9 736.6,46.6 740.8,47.3 C745.1,48.0 750.9,49.8 756.1,50.7 C761.3,51.6 767.1,52.4 772.0,52.8 C776.9,53.2 781.0,51.9 785.6,53.2 C790.1,54.6 795.2,57.9 799.1,60.8 C803.1,63.8 805.9,67.8 809.3,71.0 C812.7,74.3 816.4,78.1 819.5,80.3 C822.6,82.6 824.3,85.0 827.9,84.6 C831.6,84.2 837.8,78.8 841.5,77.8 C845.2,76.8 846.9,77.5 850.0,78.6 C853.1,79.8 857.4,82.5 860.1,84.6 C862.9,86.6 864.4,89.1 866.6,90.8 C868.8,92.6 870.7,93.4 873.2,95.1 C875.7,96.8 878.8,99.2 881.7,101.0 C884.5,102.9 887.3,105.1 890.1,106.1 C893.0,107.1 895.8,107.2 898.6,106.9 C901.4,106.7 904.3,105.4 907.1,104.4 C909.9,103.4 912.7,101.9 915.6,101.0 C918.4,100.1 921.4,99.4 924.0,98.9 C926.7,98.4 930.4,98.2 931.7,98.1"/><path d="M518.7,600.0 C519.4,601.5 521.4,605.3 523.2,609.0 C525.0,612.7 526.7,617.0 529.6,622.2 C532.4,627.4 536.7,634.2 540.1,640.3 C543.6,646.5 546.9,653.1 550.3,659.0 C553.7,664.9 557.1,670.8 560.5,675.9 C563.9,681.0 567.3,685.5 570.6,689.5 C574.0,693.4 577.4,696.7 580.8,699.7 C584.2,702.6 587.6,705.6 591.0,707.3 C594.4,709.0 597.6,709.4 601.2,709.8 C604.7,710.3 607.4,709.7 612.0,709.8 C616.6,710.0 623.3,709.8 628.9,710.7 C634.6,711.5 640.2,713.8 645.9,714.9 C651.5,716.0 657.2,717.3 662.8,717.5 C668.5,717.6 674.1,717.0 679.8,715.8 C685.4,714.5 691.7,712.5 696.7,709.8 C701.8,707.1 705.8,703.6 710.3,699.7 C714.8,695.7 719.3,690.3 723.9,686.1 C728.4,681.9 732.9,677.6 737.4,674.2 C741.9,670.8 746.5,667.6 751.0,665.8 C755.5,663.9 761.0,663.6 764.5,663.2 C768.0,662.8 767.9,663.7 772.0,663.5 C776.1,663.3 783.3,663.2 788.9,662.0 C794.6,660.9 800.8,658.9 805.9,656.4 C811.0,654.0 815.5,650.6 819.5,647.1 C823.4,643.6 826.8,638.5 829.6,635.3 C832.5,632.0 833.3,631.7 836.4,627.6 C839.5,623.5 845.1,615.2 848.3,610.7 C851.5,606.1 852.9,604.2 855.6,600.2 C858.4,596.3 861.8,591.5 864.7,586.9 C867.6,582.3 870.4,577.4 873.2,572.5 C876.0,567.6 878.9,562.4 881.7,557.3 C884.5,552.2 887.6,546.8 890.1,542.0 C892.6,537.2 895.0,532.1 896.9,528.4 C898.8,524.7 899.7,524.0 901.8,520.0 C903.9,516.0 907.2,509.8 909.6,504.4 C912.0,499.0 914.3,493.0 916.4,487.5 C918.5,482.0 920.6,475.8 922.3,471.4 C924.0,467.0 925.2,464.7 926.6,461.2 C928.0,457.7 931.1,455.5 930.7,450.3 C930.4,445.1 927.0,437.2 924.5,430.2 C922.1,423.1 918.9,415.8 916.1,408.1 C913.2,400.5 910.4,391.8 907.6,384.4 C904.8,377.1 901.7,369.7 899.1,364.1 C896.6,358.4 894.6,352.8 892.3,350.5 C890.1,348.2 888.7,349.0 885.6,350.5 C882.5,352.1 878.5,355.9 873.7,359.8 C868.9,363.8 862.4,369.3 856.7,374.2 C851.1,379.2 845.4,384.7 839.8,389.5 C834.1,394.3 828.5,399.1 822.8,403.1 C817.2,407.0 811.5,410.7 805.9,413.2 C800.2,415.8 794.6,417.2 788.9,418.3 C783.3,419.4 777.5,420.0 772.0,420.0 C766.5,420.0 760.7,419.7 756.1,418.3 C751.4,416.9 748.4,414.9 744.2,411.5 C740.0,408.1 734.9,402.2 730.6,398.0 C726.4,393.7 723.0,390.3 718.8,386.1 C714.5,381.9 710.3,376.8 705.2,372.5 C700.1,368.3 693.9,364.1 688.3,360.7 C682.6,357.3 677.0,354.0 671.3,352.2 C665.7,350.4 661.4,350.2 654.4,349.7 C647.3,349.1 636.0,349.1 628.9,348.8 C621.9,348.5 616.9,348.2 612.0,348.0 C607.1,347.7 604.1,348.0 599.5,347.1 C594.8,346.3 589.0,343.6 584.2,342.9 C579.4,342.2 575.7,342.2 570.6,342.9 C565.6,343.6 559.3,345.4 553.7,347.1 C548.0,348.8 541.8,351.9 536.7,353.1 C531.7,354.2 528.0,354.6 523.2,353.9 C518.4,353.2 512.5,350.4 507.9,348.8 C503.4,347.3 498.0,345.3 496.1,344.6"/><path d="M138.2,597.1 C141.4,598.1 150.5,599.9 157.4,603.1 C164.3,606.2 172.4,611.1 179.5,615.8 C186.5,620.4 193.6,626.6 199.8,631.0 C206.0,635.4 211.1,638.5 216.7,642.0 C222.4,645.6 228.0,649.2 233.7,652.2 C239.3,655.2 245.0,657.7 250.6,659.8 C256.3,661.9 261.9,663.8 267.6,664.9 C273.2,666.0 280.5,666.1 284.5,666.3 C288.6,666.5 289.1,666.4 292.0,666.0 C294.9,665.6 298.5,666.1 302.2,664.1 C305.8,662.0 310.1,658.4 314.0,653.9 C318.0,649.4 323.0,641.2 325.9,636.9 C328.8,632.7 330.0,631.5 331.7,628.7 C333.4,625.8 332.8,626.0 336.1,620.0 C339.3,614.0 347.1,600.2 351.3,592.5 C355.6,584.9 358.2,580.4 361.5,573.9 C364.8,567.4 368.0,559.6 371.2,553.7 C374.3,547.9 377.5,543.6 380.5,538.6 C383.5,533.6 386.2,529.0 389.0,524.0 C391.8,519.0 394.6,513.3 397.4,508.5 C400.2,503.7 403.1,499.2 405.9,495.1 C408.7,491.0 411.6,487.6 414.4,484.1 C417.2,480.6 420.0,477.1 422.8,473.9 C425.6,470.6 428.5,467.4 431.3,464.6 C434.1,461.8 437.2,458.7 439.8,456.9 C442.4,455.1 444.6,454.6 446.6,453.6 C448.6,452.6 449.7,451.2 452.0,450.8 C454.3,450.4 457.7,450.7 460.5,451.4 C463.3,452.1 466.1,453.3 468.9,454.8 C471.7,456.3 474.6,458.2 477.4,460.3 C480.2,462.4 483.1,464.4 485.9,467.1 C488.7,469.8 491.6,473.0 494.4,476.4 C497.2,479.8 500.0,483.5 502.8,487.5 C505.6,491.5 508.4,495.6 511.3,500.3 C514.2,505.1 517.1,510.6 520.0,516.0 C522.9,521.5 525.8,527.0 528.7,533.0 C531.6,539.0 535.3,547.4 537.4,552.0 C539.5,556.6 537.2,552.3 541.2,560.3 C545.1,568.3 556.0,590.1 561.2,600.0 C566.3,609.9 568.6,613.8 572.2,620.0 C575.7,626.2 579.1,631.9 582.5,636.9 C585.9,642.0 589.3,646.6 592.7,650.5 C596.1,654.5 599.6,658.3 602.8,660.7 C606.1,663.1 608.2,664.4 612.0,664.9 C615.8,665.5 620.5,665.6 625.6,664.1 C630.6,662.5 636.3,659.0 642.5,655.6 C648.7,652.2 656.1,647.7 662.8,643.7 C669.6,639.8 678.7,634.5 683.2,631.9 C687.6,629.2 685.8,630.2 689.5,627.8 C693.2,625.4 698.9,621.2 705.2,617.5 C711.5,613.8 720.2,608.7 727.3,605.6 C734.3,602.5 741.4,600.3 747.6,598.8 C753.8,597.3 760.5,597.0 764.5,596.8 C768.6,596.5 767.9,597.5 772.0,597.3 C776.1,597.1 783.3,597.2 788.9,595.4 C794.6,593.6 800.2,591.0 805.9,586.6 C811.5,582.2 817.7,575.1 822.8,569.2 C828.0,563.2 833.5,555.0 836.7,550.6 C839.9,546.3 839.4,546.6 842.0,543.0 C844.6,539.4 849.2,533.1 852.0,529.3 C854.8,525.5 856.0,524.0 858.8,520.0 C861.6,516.0 865.8,509.6 868.9,505.3 C872.0,501.0 874.6,497.7 877.4,494.2 C880.2,490.7 883.1,487.4 885.9,484.1 C888.7,480.9 891.6,477.7 894.4,474.7 C897.2,471.7 900.0,468.8 902.8,466.3 C905.6,463.8 908.5,461.4 911.3,459.5 C914.1,457.6 917.2,455.9 919.8,454.8 C922.4,453.7 925.5,453.3 926.6,453.0"/><path d="M931.3,672.5 C930.2,672.7 927.1,672.5 924.5,673.4 C922.0,674.2 919.5,674.9 916.1,677.6 C912.7,680.3 908.2,684.4 904.2,689.5 C900.2,694.6 896.0,701.4 892.3,708.1 C888.7,714.9 885.6,722.3 882.2,730.2 C878.8,738.1 874.5,749.0 872.0,755.6 C869.5,762.2 868.9,764.7 867.0,770.0 C865.0,775.2 862.4,781.3 860.1,786.9 C857.9,792.6 855.6,798.2 853.4,803.9 C851.1,809.5 848.8,815.2 846.6,820.8 C844.3,826.5 842.1,832.7 839.8,837.8 C837.5,842.9 835.8,846.8 833.0,851.4 C830.2,855.9 826.8,861.4 822.8,864.9 C818.9,868.4 814.4,870.6 809.3,872.5 C804.2,874.5 798.6,875.8 792.3,876.8 C786.1,877.8 780.9,878.0 772.0,878.5 C763.1,879.0 748.8,879.5 739.1,879.8 C729.4,880.1 722.2,880.1 713.7,880.2 C705.2,880.2 696.7,880.3 688.3,880.2 C679.8,880.0 669.9,879.9 662.8,879.3 C655.8,878.8 651.5,877.8 645.9,876.8 C640.2,875.8 634.6,874.2 628.9,873.4 C623.3,872.5 618.3,871.7 612.0,871.7 C605.7,871.7 596.7,873.7 591.0,873.4 C585.2,873.1 581.9,872.3 577.4,870.0 C572.9,867.7 567.8,863.8 563.9,859.8 C559.9,855.9 557.1,851.6 553.7,846.3 C550.3,840.9 546.9,834.1 543.5,827.6 C540.1,821.1 536.5,814.1 533.4,807.3 C530.2,800.5 526.8,791.5 524.9,786.9 C523.0,782.4 523.8,784.6 521.8,779.9 C519.8,775.3 515.9,765.9 513.0,759.0 C510.1,752.1 507.6,746.0 504.5,738.6 C501.4,731.3 497.8,722.5 494.4,714.9 C491.0,707.3 487.6,698.8 484.2,692.9 C480.8,686.9 477.7,682.9 474.0,679.3 C470.4,675.8 465.8,672.9 462.2,671.7 C458.5,670.5 454.7,671.7 452.0,672.1 C449.3,672.5 448.6,672.8 446.2,674.2 C443.9,675.7 440.9,677.6 437.8,681.0 C434.7,684.4 431.5,688.1 427.6,694.6 C423.6,701.1 418.6,710.4 414.0,720.0 C409.5,729.6 404.4,742.8 400.5,752.2 C396.5,761.6 392.7,770.8 390.2,776.3 C387.7,781.8 387.2,781.2 385.2,785.3 C383.3,789.3 380.7,795.4 378.4,800.5 C376.2,805.6 373.9,810.7 371.7,815.8 C369.4,820.8 367.1,826.2 364.9,831.0 C362.6,835.8 360.9,840.1 358.1,844.6 C355.3,849.1 351.9,854.3 347.9,858.1 C344.0,861.9 339.5,865.3 334.4,867.5 C329.3,869.7 324.5,870.8 317.4,871.4 C310.4,871.9 298.9,871.5 292.0,870.8 C285.1,870.2 281.5,868.2 276.1,867.5 C270.6,866.7 266.2,866.1 259.1,866.1 C252.1,866.1 242.2,866.8 233.7,867.5 C225.2,868.1 216.7,869.2 208.3,870.0 C199.8,870.8 191.3,871.6 182.8,872.5 C174.4,873.5 164.9,874.9 157.4,875.9 C150.0,876.9 141.4,878.1 138.2,878.5"/><path d="M138.2,237.8 C141.4,237.9 151.4,238.6 157.4,238.6 C163.5,238.6 169.6,238.5 174.4,237.8 C179.2,237.1 182.0,236.7 186.2,234.4 C190.5,232.1 194.7,228.5 199.8,224.2 C204.9,220.0 211.1,213.5 216.7,209.0 C222.4,204.5 228.0,200.4 233.7,197.1 C239.3,193.9 245.0,191.8 250.6,189.5 C256.3,187.2 261.9,185.0 267.6,183.6 C273.2,182.1 280.5,181.4 284.5,181.0 C288.6,180.7 289.1,181.2 292.0,181.4 C294.9,181.7 298.8,180.9 302.2,182.7 C305.6,184.5 308.4,188.2 312.3,192.0 C316.3,195.8 320.8,200.4 325.9,205.6 C331.0,210.8 338.9,220.3 342.8,223.4 C346.8,226.5 346.2,224.8 349.6,224.2 C353.0,223.7 358.1,221.3 363.2,220.0 C368.3,218.7 374.5,217.0 380.1,216.6 C385.8,216.2 391.4,216.9 397.1,217.5 C402.7,218.0 408.4,218.9 414.0,220.0 C419.7,221.1 425.9,222.7 431.0,224.2 C436.1,225.8 441.0,228.3 444.5,229.3 C448.0,230.3 448.5,230.3 452.0,230.2 C455.5,230.0 461.3,230.0 465.6,228.5 C469.8,226.9 472.6,223.8 477.4,220.8 C482.2,217.9 489.3,213.2 494.4,210.7 C499.5,208.1 504.3,208.1 507.9,205.6 C511.6,203.1 513.6,199.4 516.4,195.4 C519.2,191.5 522.1,185.1 524.9,181.9 C527.7,178.6 530.3,177.8 533.4,175.9 C536.4,174.0 539.9,172.3 543.2,170.5 C546.5,168.6 549.4,166.0 553.2,164.6 C557.0,163.2 562.4,162.0 565.9,162.0 C569.4,162.0 571.3,163.3 574.4,164.6 C577.4,165.9 580.5,167.8 584.2,169.9 C587.8,171.9 591.4,175.5 596.1,176.8 C600.7,178.0 607.9,177.2 612.0,177.3 C616.1,177.4 617.6,177.0 620.5,177.4 C623.3,177.7 626.1,179.0 628.9,179.5 C631.8,180.0 633.9,180.5 637.4,180.3 C641.0,180.2 645.9,179.5 650.1,178.6 C654.4,177.8 657.9,176.8 662.8,175.3 C667.8,173.7 674.9,170.9 679.8,169.3 C684.7,167.7 689.0,166.9 692.5,165.8 C695.9,164.7 697.0,163.8 700.5,162.7 C703.9,161.6 708.9,160.1 713.2,159.3 C717.4,158.5 721.0,158.4 725.9,158.1 C730.8,157.7 737.2,157.3 742.8,157.2 C748.5,157.1 754.9,157.1 759.8,157.2 C764.7,157.3 767.1,157.9 772.0,157.9 C776.9,158.0 783.3,157.3 788.9,157.4 C794.6,157.4 801.0,157.4 805.9,158.2 C810.8,159.0 815.1,160.7 818.6,162.0 C822.1,163.4 824.9,165.0 827.1,166.3 C829.3,167.5 828.7,167.2 831.7,169.5 C834.7,171.8 840.7,176.7 844.9,180.2 C849.1,183.6 853.1,186.9 856.7,190.3 C860.4,193.7 864.1,197.5 866.9,200.5 C869.7,203.5 870.3,206.0 873.7,208.1 C877.1,210.3 883.0,211.7 887.3,213.2 C891.5,214.8 895.2,215.6 899.1,217.5 C903.1,219.3 907.3,222.4 911.0,224.2 C914.7,226.1 917.8,227.5 921.2,228.5 C924.5,229.5 929.6,229.9 931.3,230.2"/><path d="M931.3,260.7 C928.8,260.0 920.6,258.6 916.1,256.4 C911.5,254.3 908.4,251.4 904.2,248.0 C900.0,244.6 894.6,240.1 890.6,236.1 C886.7,232.1 883.3,226.6 880.5,224.2 C877.6,221.8 876.0,221.7 873.7,221.7 C871.4,221.7 869.7,222.4 866.9,224.2 C864.1,226.1 860.7,229.3 856.7,232.7 C852.8,236.1 847.4,241.5 843.2,244.6 C838.9,247.7 835.3,249.7 831.3,251.4 C827.4,253.1 825.1,254.2 819.5,254.7 C813.8,255.3 805.3,254.7 797.4,254.7 C789.5,254.7 780.3,255.0 772.0,254.7 C763.7,254.5 754.5,254.2 747.6,253.1 C740.7,251.9 736.3,250.5 730.6,248.0 C725.0,245.4 719.3,241.8 713.7,237.8 C708.0,233.8 702.4,228.8 696.7,224.2 C691.1,219.7 685.4,214.9 679.8,210.7 C674.1,206.4 668.5,202.5 662.8,198.8 C657.2,195.1 651.5,191.3 645.9,188.6 C640.2,186.0 634.6,183.8 628.9,182.7 C623.3,181.6 616.1,181.7 612.0,181.9 C607.9,182.0 607.2,181.9 604.5,183.6 C601.9,185.3 599.2,188.6 596.1,192.0 C593.0,195.4 589.6,199.4 585.9,203.9 C582.2,208.4 577.4,215.8 574.0,219.2 C570.6,222.5 568.9,224.0 565.6,224.2 C562.2,224.5 558.5,222.3 553.7,220.8 C548.9,219.4 542.4,216.8 536.7,215.8 C531.1,214.8 525.4,214.5 519.8,214.9 C514.1,215.3 508.5,217.2 502.8,218.3 C497.2,219.4 491.5,220.1 485.9,221.7 C480.2,223.2 474.6,226.2 468.9,227.6 C463.3,229.0 456.2,229.8 452.0,230.0 C447.8,230.2 446.8,229.4 444.0,228.6 C441.3,227.8 438.4,226.7 435.6,225.2 C432.7,223.6 429.8,221.1 427.1,219.2 C424.4,217.4 421.9,215.5 419.5,214.2 C417.1,212.8 414.9,211.8 412.7,211.2 C410.4,210.6 408.2,211.5 405.9,210.8 C403.6,210.0 401.2,208.9 399.1,206.5 C397.0,204.1 395.2,199.9 393.2,196.4 C391.2,192.8 389.4,188.4 387.3,185.3 C385.1,182.2 383.0,180.0 380.5,177.7 C377.9,175.5 374.3,173.0 372.0,171.8 C369.7,170.5 368.5,171.1 366.5,170.2 C364.5,169.3 362.3,167.6 359.8,166.3 C357.3,164.9 354.1,163.1 351.3,162.0 C348.5,161.0 346.4,159.5 342.8,159.9 C339.3,160.3 333.6,162.8 330.1,164.6 C326.6,166.4 324.0,169.3 321.9,170.8 C319.8,172.2 320.1,172.2 317.4,173.4 C314.7,174.5 309.8,177.1 305.6,177.6 C301.3,178.2 296.9,176.5 292.0,176.8 C287.1,177.1 281.5,178.9 276.1,179.3 C270.6,179.7 264.8,180.0 259.1,179.3 C253.5,178.6 247.5,176.8 242.2,175.1 C236.8,173.4 232.1,170.9 227.1,169.1 C222.0,167.4 216.5,165.8 212.0,164.6 C207.5,163.4 204.7,162.7 199.8,162.0 C194.9,161.4 189.9,161.3 182.8,160.8 C175.8,160.3 164.9,159.6 157.4,159.1 C150.0,158.6 141.4,158.0 138.2,157.8"/><path d="M931.3,642.9 C929.9,643.0 926.0,642.7 922.8,643.7 C919.7,644.7 916.4,646.0 912.7,648.8 C909.0,651.6 904.5,655.9 900.8,660.7 C897.1,665.5 894.0,671.7 890.6,677.6 C887.3,683.6 883.9,689.5 880.5,696.3 C877.1,703.1 873.7,711.0 870.3,718.3 C866.9,725.6 863.8,733.0 860.1,740.3 C856.5,747.7 852.2,755.7 848.3,762.4 C844.3,769.0 840.1,775.7 836.4,780.1 C832.7,784.5 829.6,786.7 826.2,788.6 C822.8,790.6 819.5,791.7 816.1,791.7 C812.7,791.7 809.0,790.0 805.9,788.6 C802.8,787.3 800.8,785.5 797.4,783.6 C794.0,781.6 789.8,778.1 785.6,776.8 C781.3,775.4 778.3,775.7 772.0,775.4 C765.7,775.1 754.5,775.2 747.6,775.1 C740.7,775.0 736.3,774.6 730.6,774.7 C725.0,774.9 719.3,775.0 713.7,775.9 C708.0,776.8 702.4,778.1 696.7,780.2 C691.1,782.3 685.4,785.0 679.8,788.6 C674.1,792.3 668.5,798.0 662.8,802.2 C657.2,806.4 651.5,810.7 645.9,814.1 C640.2,817.5 634.6,820.7 628.9,822.5 C623.3,824.4 616.4,825.4 612.0,825.1 C607.6,824.8 606.1,823.2 602.8,820.8 C599.6,818.4 596.1,814.2 592.7,810.7 C589.3,807.1 585.6,802.2 582.5,799.7 C579.4,797.1 577.4,795.8 574.0,795.4 C570.6,795.0 565.6,796.7 562.2,797.1 C558.8,797.5 556.5,798.5 553.7,798.0 C550.9,797.4 548.3,796.1 545.2,793.7 C542.1,791.3 538.2,787.5 535.1,783.6 C531.9,779.6 528.5,773.7 526.5,769.9 C524.5,766.1 524.9,765.3 523.2,760.7 C521.5,756.0 518.7,748.5 516.4,742.0 C514.1,735.5 511.9,728.2 509.6,721.7 C507.4,715.2 505.1,709.5 502.8,703.1 C500.6,696.6 498.9,689.2 496.1,682.7 C493.2,676.2 489.6,669.7 485.9,664.1 C482.2,658.4 478.0,652.5 474.0,648.8 C470.1,645.1 465.8,643.1 462.2,642.0 C458.5,641.0 456.1,640.5 452.0,642.5 C447.9,644.4 442.1,649.2 437.8,653.9 C433.4,658.6 429.9,664.6 425.9,670.8 C421.9,677.1 418.0,682.7 414.0,691.2 C410.1,699.7 406.1,711.5 402.2,721.7 C398.2,731.9 394.2,742.4 390.3,752.2 C386.5,762.0 382.2,773.2 379.1,780.4 C375.9,787.6 374.3,791.2 371.7,795.4 C369.0,799.6 366.0,803.2 363.2,805.6 C360.4,808.0 358.1,809.3 354.7,809.8 C351.3,810.4 346.8,809.1 342.8,809.0 C338.9,808.8 335.2,807.6 331.0,809.0 C326.7,810.4 321.9,814.8 317.4,817.5 C312.9,820.1 308.1,823.7 303.9,825.1 C299.6,826.5 295.8,825.5 292.0,825.8 C288.2,826.0 285.2,826.7 281.2,826.4 C277.1,826.2 272.1,825.6 267.6,824.2 C263.1,822.9 258.6,821.0 254.0,818.3 C249.5,815.6 245.0,811.8 240.5,808.1 C236.0,804.5 231.4,799.9 226.9,796.3 C222.4,792.6 218.4,789.1 213.4,786.1 C208.3,783.1 202.1,780.3 196.4,778.5 C190.8,776.6 186.0,775.7 179.5,775.1 C173.0,774.4 164.3,774.6 157.4,774.6 C150.5,774.6 141.4,775.0 138.2,775.1"/><path d="M931.0,561.1 C929.8,561.3 926.3,561.2 924.0,562.4 C921.7,563.6 919.4,566.0 917.3,568.3 C915.2,570.5 913.7,572.5 911.3,575.9 C908.9,579.3 905.5,584.6 902.8,588.6 C900.1,592.6 897.0,597.3 895.2,600.0 C893.4,602.7 893.4,603.0 892.0,605.1 C890.7,607.1 890.9,608.2 887.3,612.4 C883.6,616.5 876.0,624.9 870.4,630.1 C864.7,635.3 859.0,639.5 853.4,643.7 C847.7,648.0 842.1,651.4 836.4,655.6 C830.8,659.8 824.5,664.9 819.5,669.2 C814.4,673.4 810.1,677.1 805.9,681.0 C801.7,685.0 798.0,689.5 794.0,692.9 C790.1,696.3 785.8,699.7 782.2,701.4 C778.5,703.1 777.8,702.3 772.0,703.1 C766.2,703.8 754.5,704.7 747.6,705.6 C740.7,706.4 736.3,707.0 730.6,708.1 C725.0,709.3 719.3,710.7 713.7,712.4 C708.0,714.1 702.4,716.3 696.7,718.3 C691.1,720.3 685.4,722.7 679.8,724.2 C674.1,725.8 668.5,726.8 662.8,727.6 C657.2,728.5 651.5,728.8 645.9,729.3 C640.2,729.9 634.6,730.7 628.9,731.0 C623.3,731.3 616.6,730.7 612.0,731.0 C607.4,731.3 604.7,731.4 601.2,732.7 C597.6,734.0 594.4,736.9 591.0,738.6 C587.6,740.3 583.9,742.6 580.8,742.9 C577.7,743.2 575.2,742.5 572.3,740.3 C569.5,738.2 567.0,734.7 563.9,730.2 C560.8,725.6 557.1,719.2 553.7,713.2 C550.3,707.3 546.9,700.8 543.5,694.6 C540.1,688.4 536.7,682.1 533.4,675.9 C530.0,669.7 526.9,663.5 523.2,657.3 C519.5,651.1 514.2,643.1 511.3,638.6 C508.4,634.1 508.1,634.4 505.8,630.3 C503.6,626.2 500.6,619.0 497.8,614.1 C494.9,609.1 491.2,604.5 488.6,600.7 C486.1,596.9 484.4,594.2 482.5,591.2 C480.6,588.2 479.4,586.0 477.4,582.7 C475.4,579.5 472.7,574.7 470.6,571.7 C468.5,568.7 466.8,566.6 464.7,564.9 C462.6,563.2 460.0,562.1 457.9,561.5 C455.8,560.9 454.2,561.4 452.0,561.5 C449.8,561.6 446.9,561.1 444.9,562.4 C442.9,563.7 441.6,566.7 439.8,569.2 C438.0,571.7 436.0,574.5 433.9,577.6 C431.8,580.7 429.4,584.1 427.1,587.8 C424.8,591.5 422.8,595.3 420.1,600.0 C417.3,604.7 412.6,612.5 410.6,615.8 C408.7,619.1 411.3,614.8 408.5,619.8 C405.6,624.7 398.1,637.8 393.7,645.4 C389.3,653.1 385.8,659.0 381.8,665.8 C377.9,672.5 373.9,679.3 370.0,686.1 C366.0,692.9 362.1,699.9 358.1,706.4 C354.1,712.9 350.2,720.1 346.2,725.1 C342.3,730.0 338.3,734.0 334.4,736.1 C330.4,738.2 326.7,738.4 322.5,737.8 C318.3,737.2 314.0,733.9 308.9,732.7 C303.9,731.5 297.5,730.7 292.0,730.6 C286.5,730.5 281.5,731.2 276.1,731.9 C270.6,732.5 264.8,733.7 259.1,734.4 C253.5,735.1 247.5,736.1 242.2,736.1 C236.8,736.1 231.5,735.6 226.9,734.4 C222.4,733.2 218.9,731.2 214.9,729.0 C210.9,726.7 207.1,723.6 203.2,720.8 C199.3,718.1 195.3,715.2 191.3,712.4 C187.4,709.5 183.7,705.8 179.5,703.9 C175.2,702.0 171.0,701.4 165.9,701.0 C160.8,700.7 153.6,701.5 148.9,701.9 C144.3,702.2 140.0,702.9 138.2,703.1"/><path d="M931.3,366.6 C929.9,366.2 925.4,365.6 922.8,364.1 C920.3,362.5 918.6,359.8 916.1,357.3 C913.5,354.7 910.4,351.1 907.6,348.8 C904.8,346.6 901.7,344.4 899.1,343.7 C896.6,343.0 894.3,345.1 892.3,344.6 C890.4,344.0 889.5,342.7 887.3,340.3 C885.0,337.9 881.6,333.6 878.8,330.2 C876.0,326.7 873.3,322.7 870.5,319.8 C867.7,316.8 865.5,315.0 861.8,312.4 C858.1,309.7 852.5,305.9 848.3,303.9 C844.0,301.9 840.6,300.8 836.4,300.5 C832.2,300.2 827.9,300.8 822.8,302.2 C817.8,303.6 811.5,306.4 805.9,309.0 C800.2,311.5 794.6,315.8 788.9,317.5 C783.3,319.2 780.3,318.9 772.0,319.2 C763.7,319.4 747.4,319.3 739.1,319.2 C730.8,319.0 727.8,318.9 722.2,318.3 C716.5,317.7 710.9,317.0 705.2,315.8 C699.6,314.5 693.9,312.7 688.3,310.7 C682.6,308.7 677.5,305.7 671.3,303.9 C665.1,302.1 658.0,300.2 651.0,299.7 C643.9,299.1 635.4,300.2 628.9,300.5 C622.5,300.8 617.5,301.2 612.0,301.4 C606.5,301.5 602.4,300.9 596.1,301.4 C589.7,301.8 580.5,304.0 574.0,303.9 C567.5,303.8 562.5,301.4 557.1,300.5 C551.7,299.7 547.2,298.2 541.8,298.8 C536.5,299.4 530.0,301.4 524.9,303.9 C519.8,306.4 514.8,310.4 511.3,314.1 C507.8,317.7 505.8,322.7 503.9,325.7 C501.9,328.7 501.0,329.7 499.5,331.9 C497.9,334.0 497.2,336.7 494.4,338.6 C491.5,340.6 486.7,340.3 482.5,343.7 C478.3,347.1 472.6,355.5 468.9,359.0 C465.3,362.5 463.3,363.8 460.5,364.9 C457.6,366.0 454.7,365.9 452.0,365.8 C449.3,365.6 447.5,366.6 444.5,364.1 C441.6,361.5 437.5,354.0 434.4,350.5 C431.3,347.0 428.7,344.7 425.9,342.9 C423.1,341.0 420.0,341.0 417.4,339.5 C414.9,337.9 413.1,336.9 410.6,333.6 C408.2,330.2 405.7,323.5 402.8,319.4 C400.0,315.3 397.5,312.0 393.7,309.0 C389.9,306.0 384.9,303.2 380.1,301.4 C375.3,299.5 370.2,297.8 364.9,298.0 C359.5,298.1 353.6,300.8 347.9,302.2 C342.3,303.6 337.5,306.4 331.0,306.4 C324.5,306.4 315.4,303.1 308.9,302.2 C302.5,301.4 297.5,301.1 292.0,301.4 C286.5,301.6 281.5,303.3 276.1,303.9 C270.6,304.5 264.8,304.9 259.1,304.7 C253.5,304.6 247.8,303.9 242.2,303.1 C236.5,302.2 230.0,300.1 225.2,299.7 C220.4,299.2 217.6,299.5 213.4,300.5 C209.1,301.5 205.4,303.6 199.8,305.6 C194.1,307.6 186.5,310.4 179.5,312.4 C172.4,314.4 164.3,316.3 157.4,317.5 C150.5,318.6 141.4,318.9 138.2,319.2"/><path d="M930.6,969.5 C926.7,968.9 914.8,968.6 906.9,966.1 C899.0,963.6 891.1,959.6 883.2,954.2 C875.3,948.9 866.2,940.1 859.5,933.9 C852.7,927.7 847.0,920.5 842.5,916.9 C838.0,913.4 835.7,913.2 832.3,912.9 C828.9,912.6 826.7,912.3 822.2,915.3 C817.6,918.2 810.9,925.1 805.2,930.5 C799.6,935.9 792.8,944.1 788.3,947.5 C783.8,950.8 784.9,950.6 778.1,950.8 C771.3,951.1 758.3,950.6 747.6,949.2 C736.9,947.7 725.0,944.9 713.7,942.4 C702.4,939.8 691.1,936.3 679.8,933.9 C668.5,931.5 657.2,929.0 645.9,927.8 C634.6,926.6 620.3,927.0 612.0,926.9 C603.7,926.9 601.5,928.0 596.1,927.5 C590.6,926.9 584.8,925.8 579.1,923.7 C573.5,921.7 567.0,917.0 562.2,915.3 C557.4,913.5 554.5,912.7 550.3,913.2 C546.1,913.8 541.8,915.2 536.7,918.6 C531.7,922.1 525.4,928.8 519.8,933.9 C514.1,939.0 508.5,944.6 502.8,949.2 C497.2,953.7 491.5,957.9 485.9,961.0 C480.2,964.1 474.6,966.4 468.9,967.8 C463.3,969.2 457.2,969.3 452.0,969.2 C446.8,969.0 442.4,968.6 437.8,966.9 C433.1,965.3 428.7,962.3 424.2,959.3 C419.7,956.4 415.2,953.1 410.6,949.2 C406.1,945.2 401.0,939.8 397.1,935.6 C393.1,931.4 390.3,927.5 386.9,923.7 C383.5,919.9 379.9,916.0 376.7,912.7 C373.6,909.5 371.1,906.2 368.3,904.2 C365.4,902.3 362.6,901.3 359.8,900.8 C357.0,900.4 354.7,900.4 351.3,901.7 C347.9,903.0 343.7,905.6 339.5,908.5 C335.2,911.3 331.0,915.8 325.9,918.6 C320.8,921.5 314.6,924.1 308.9,925.4 C303.3,926.7 297.5,926.3 292.0,926.5 C286.5,926.8 281.5,926.4 276.1,926.8 C270.6,927.2 266.2,927.8 259.1,929.0 C252.1,930.2 243.6,931.9 233.7,934.1 C223.8,936.2 211.1,939.3 199.8,941.7 C188.5,944.1 176.2,946.9 165.9,948.5 C155.6,950.0 142.8,950.6 138.2,951.0"/><path d="M892.6,217.9 C890.8,217.4 885.9,215.6 882.2,214.9 C878.5,214.3 874.5,214.1 870.3,214.1 C866.1,214.1 861.8,214.2 856.7,214.9 C851.7,215.6 845.4,216.8 839.8,218.3 C834.1,219.9 828.5,222.1 822.8,224.2 C817.2,226.4 811.5,229.0 805.9,231.0 C800.2,233.0 794.6,235.0 788.9,236.1 C783.3,237.2 778.9,237.4 772.0,237.8 C765.1,238.2 754.5,238.2 747.6,238.6 C740.7,239.1 736.3,239.9 730.6,240.3 C725.0,240.8 720.8,241.3 713.7,241.2 C706.6,241.0 696.7,240.3 688.3,239.5 C679.8,238.6 671.3,237.2 662.8,236.1 C654.4,235.0 645.9,233.3 637.4,232.7 C628.9,232.1 618.9,232.7 612.0,232.7 C605.1,232.7 601.5,233.3 596.1,232.7 C590.6,232.1 583.9,230.0 579.1,229.3 C574.3,228.6 570.9,227.2 567.3,228.5 C563.6,229.7 560.2,234.1 557.1,236.9 C554.0,239.8 551.4,243.3 548.6,245.4 C545.8,247.5 543.0,249.5 540.1,249.7 C537.3,249.8 535.1,248.8 531.7,246.3 C528.3,243.7 523.8,238.6 519.8,234.4 C515.8,230.2 510.8,222.8 507.9,220.8 C505.1,218.9 505.7,220.3 502.8,222.5 C500.0,224.8 495.2,230.2 491.0,234.4 C486.7,238.6 481.7,244.0 477.4,248.0 C473.2,251.9 469.8,256.1 465.6,258.1 C461.3,260.2 456.1,260.3 452.0,260.3 C447.9,260.3 444.7,259.6 441.2,258.1 C437.6,256.7 434.7,254.5 431.0,251.4 C427.3,248.2 422.8,243.4 419.1,239.5 C415.4,235.5 412.1,230.5 408.9,227.6 C405.8,224.8 404.1,221.4 400.5,222.5 C396.8,223.7 391.2,230.2 386.9,234.4 C382.7,238.6 377.9,245.6 375.1,248.0 C372.2,250.4 371.7,249.0 370.0,248.8 C368.3,248.7 367.7,249.2 364.9,247.1 C362.1,245.0 356.7,239.1 353.0,236.1 C349.3,233.1 348.8,229.7 342.8,229.3 C336.9,228.9 325.9,233.0 317.4,233.6 C308.9,234.1 300.3,232.7 292.0,232.7 C283.7,232.7 275.9,232.9 267.6,233.6 C259.3,234.3 250.6,236.0 242.2,236.9 C233.7,237.9 225.2,238.6 216.7,239.5 C208.3,240.3 198.4,240.8 191.3,242.0 C184.3,243.3 180.0,245.3 174.4,247.1 C168.7,249.0 163.5,251.8 157.4,253.1 C151.4,254.3 141.4,254.5 138.2,254.7"/><path d="M931.3,303.1 C928.8,303.2 920.6,303.9 916.1,303.9 C911.5,303.9 907.6,303.9 904.2,303.1 C900.8,302.2 898.6,301.2 895.7,298.8 C892.9,296.4 890.4,292.9 887.3,288.6 C884.1,284.4 880.5,276.9 877.1,273.4 C873.7,269.9 870.3,268.4 866.9,267.5 C863.5,266.5 861.3,267.0 856.7,267.5 C852.2,267.9 845.4,269.6 839.8,270.0 C834.1,270.4 828.5,271.0 822.8,270.0 C817.2,269.0 811.5,265.9 805.9,264.1 C800.2,262.2 794.6,260.1 788.9,259.0 C783.3,257.9 777.5,257.6 772.0,257.3 C766.5,257.0 761.5,257.0 756.1,257.3 C750.6,257.6 746.2,258.1 739.1,259.0 C732.1,259.8 722.2,261.5 713.7,262.4 C705.2,263.2 696.7,263.5 688.3,264.1 C679.8,264.6 671.3,265.2 662.8,265.8 C654.4,266.3 645.9,266.9 637.4,267.5 C628.9,268.0 618.9,269.0 612.0,269.2 C605.1,269.3 601.5,268.7 596.1,268.3 C590.6,267.9 584.8,267.5 579.1,266.6 C573.5,265.8 567.5,265.2 562.2,263.2 C556.8,261.2 550.6,256.4 546.9,254.7 C543.2,253.1 543.2,251.9 540.1,253.1 C537.0,254.2 532.2,259.3 528.3,261.5 C524.3,263.8 520.1,264.6 516.4,266.6 C512.7,268.6 509.6,270.0 506.2,273.4 C502.8,276.8 499.5,282.7 496.1,286.9 C492.7,291.2 490.4,296.6 485.9,298.8 C481.4,301.1 474.6,299.9 468.9,300.5 C463.3,301.1 457.2,301.1 452.0,302.2 C446.8,303.3 441.8,306.0 437.8,307.3 C433.7,308.6 431.0,310.1 427.6,309.8 C424.2,309.5 421.4,307.1 417.4,305.6 C413.5,304.0 408.4,302.8 403.9,300.5 C399.3,298.2 394.8,295.4 390.3,292.0 C385.8,288.6 381.3,283.1 376.7,280.2 C372.2,277.2 368.8,275.5 363.2,274.2 C357.5,273.0 350.5,272.5 342.8,272.5 C335.2,272.5 325.9,273.4 317.4,274.2 C308.9,275.1 299.2,277.4 291.8,277.6 C284.3,277.7 278.7,275.2 272.7,275.1 C266.7,275.0 261.4,275.5 255.7,276.8 C250.1,278.1 244.4,280.9 238.8,282.7 C233.1,284.5 227.5,287.2 221.8,287.8 C216.2,288.4 210.5,287.4 204.9,286.1 C199.2,284.8 193.6,282.0 187.9,280.2 C182.3,278.3 176.1,275.6 171.0,275.1 C165.9,274.5 162.9,276.1 157.4,276.8 C152.0,277.5 141.4,278.9 138.2,279.3"/><path d="M565.1,12.5 C564.2,15.2 561.7,23.1 560.0,28.6 C558.3,34.2 556.6,40.8 554.9,45.6 C553.2,50.4 551.2,54.8 549.8,57.5 C548.4,60.1 548.0,61.1 546.4,61.7 C544.9,62.3 542.2,61.8 540.5,60.8 C538.8,59.9 537.7,57.5 536.2,55.8 C534.7,54.0 533.2,52.6 531.5,50.2 C529.7,47.8 527.5,44.4 525.7,41.4 C523.9,38.3 522.5,34.2 520.6,32.0 C518.8,29.8 516.5,27.4 514.7,28.2 C512.9,29.1 511.9,33.1 509.6,37.1 C507.4,41.1 504.0,47.7 501.2,52.4 C498.3,57.0 495.5,61.1 492.7,65.1 C489.9,69.0 487.0,73.0 484.2,76.1 C481.4,79.2 479.0,81.8 475.7,83.7 C472.5,85.7 468.7,87.2 464.7,88.0 C460.8,88.8 455.0,88.1 452.0,88.6 C449.0,89.1 448.9,90.3 446.8,91.2 C444.8,92.1 442.2,93.9 439.8,93.8 C437.4,93.7 435.5,93.3 432.7,90.5 C429.8,87.7 425.9,81.3 422.8,76.9 C419.8,72.6 417.2,68.6 414.4,64.2 C411.5,59.9 408.7,55.2 405.9,50.7 C403.1,46.2 399.5,40.2 397.4,37.1 C395.3,34.0 394.9,32.9 393.2,32.0 C391.5,31.2 389.1,30.8 387.3,32.0 C385.4,33.3 383.9,37.0 382.2,39.7 C380.5,42.3 378.8,45.2 377.1,48.1 C375.4,51.1 373.9,55.3 372.0,57.5 C370.1,59.6 367.5,60.2 365.7,60.8 C364.0,61.5 362.6,62.1 361.5,61.3 C360.4,60.4 360.1,58.4 358.9,55.8 C357.8,53.1 356.3,49.7 354.7,45.6 C353.2,41.5 351.3,36.2 349.6,31.2 C347.9,26.2 345.4,18.1 344.5,15.5"/><path d="M915.6,306.5 C913.7,307.0 908.4,310.0 904.2,309.0 C900.0,308.0 895.7,302.8 890.6,300.5 C885.6,298.2 879.3,297.4 873.7,295.4 C868.0,293.4 862.4,290.9 856.7,288.6 C851.1,286.4 845.4,283.7 839.8,281.9 C834.1,280.0 829.9,278.3 822.8,277.6 C815.8,276.9 805.9,277.4 797.4,277.6 C788.9,277.8 778.9,278.8 772.0,278.9 C765.1,279.0 761.5,279.1 756.1,278.5 C750.6,277.8 744.8,275.9 739.1,275.1 C733.5,274.2 727.8,273.2 722.2,273.4 C716.5,273.5 711.7,274.5 705.2,275.9 C698.7,277.3 690.2,280.5 683.2,281.9 C676.1,283.3 670.5,284.7 662.8,284.4 C655.2,284.1 645.9,281.4 637.4,280.2 C628.9,279.0 618.9,277.5 612.0,277.2 C605.1,276.9 603.0,278.3 596.1,278.5 C589.2,278.7 578.3,278.3 570.6,278.5 C563.0,278.6 556.5,278.6 550.3,279.3 C544.1,280.0 539.0,280.3 533.4,282.7 C527.7,285.1 522.1,290.5 516.4,293.7 C510.8,297.0 505.1,299.5 499.5,302.2 C493.8,304.9 488.2,309.3 482.5,309.8 C476.9,310.4 470.6,306.8 465.6,305.6 C460.5,304.4 457.5,303.3 452.0,302.6 C446.5,301.9 437.6,302.3 432.7,301.4 C427.8,300.4 425.6,299.8 422.5,297.1 C419.4,294.4 416.6,289.5 414.0,285.3 C411.5,281.0 410.1,275.5 407.3,271.7 C404.4,267.9 400.5,264.6 397.1,262.4 C393.7,260.1 390.6,259.4 386.9,258.1 C383.2,256.9 378.2,255.2 375.1,254.7 C371.9,254.3 371.4,254.3 368.3,255.6 C365.2,256.9 360.6,260.3 356.4,262.4 C352.2,264.5 349.3,267.0 342.8,268.3 C336.4,269.6 325.9,269.9 317.4,270.0 C308.9,270.1 298.9,269.0 292.0,269.2 C285.1,269.3 281.5,270.6 276.1,270.8 C270.6,271.1 266.2,271.4 259.1,270.8 C252.1,270.3 243.6,268.9 233.7,267.5 C223.8,266.0 211.1,263.8 199.8,262.4 C188.5,261.0 176.2,259.7 165.9,259.0 C155.6,258.3 142.8,258.3 138.2,258.1"/><path d="M138.2,663.2 C140.0,663.8 144.3,664.1 148.9,666.6 C153.6,669.2 160.8,674.5 165.9,678.5 C171.0,682.4 175.2,687.5 179.5,690.3 C183.7,693.2 186.5,694.3 191.3,695.4 C196.1,696.6 202.6,696.4 208.3,697.1 C213.9,697.8 219.6,698.8 225.2,699.7 C230.9,700.5 236.5,701.4 242.2,702.2 C247.8,703.1 253.5,703.9 259.1,704.7 C264.8,705.6 270.6,706.6 276.1,707.3 C281.5,708.0 286.5,708.7 292.0,709.0 C297.5,709.3 303.9,710.0 308.9,709.0 C314.0,708.0 318.3,706.0 322.5,703.1 C326.7,700.1 330.4,695.7 334.4,691.2 C338.3,686.7 342.3,681.6 346.2,675.9 C350.2,670.3 354.1,663.8 358.1,657.3 C362.1,650.8 366.3,643.1 370.0,636.9 C373.7,630.8 377.2,625.3 380.3,620.1 C383.4,614.9 386.7,608.9 388.6,605.6 C390.5,602.2 391.1,600.9 391.6,600.0"/><path d="M690.0,13.4 C690.2,13.8 689.7,14.0 691.7,15.9 C693.6,17.9 698.2,22.3 701.8,25.3 C705.5,28.2 709.5,31.3 713.7,33.7 C717.9,36.1 723.9,38.7 727.3,39.7 C730.6,40.6 730.6,40.6 734.0,39.7 C737.4,38.7 743.1,35.6 747.6,33.7 C752.1,31.9 757.1,30.1 761.2,28.6 C765.2,27.2 767.7,25.3 771.8,24.9 C775.8,24.5 780.4,24.9 785.6,26.1 C790.7,27.3 797.1,29.4 802.5,32.0 C807.9,34.7 813.0,38.4 817.8,42.2 C822.6,46.0 827.6,51.9 831.3,54.9 C835.0,57.9 836.1,59.3 839.8,60.0 C843.5,60.7 848.8,57.0 853.4,59.2 C857.9,61.3 862.4,69.0 866.9,72.7 C871.4,76.4 876.0,78.9 880.5,81.2 C885.0,83.4 889.5,84.9 894.0,86.3 C898.6,87.7 903.5,88.9 907.6,89.7 C911.7,90.4 914.7,90.4 918.8,90.7 C922.8,90.9 929.5,91.2 931.7,91.3"/><path d="M358.1,13.4 C358.8,14.8 360.9,19.6 362.3,21.9 C363.8,24.1 365.0,25.6 366.6,26.9 C368.2,28.3 370.0,30.2 372.0,29.9 C374.0,29.6 376.7,27.6 378.8,25.3 C380.9,22.9 383.4,17.9 384.7,15.9 C386.0,14.0 386.1,13.8 386.4,13.4"/><path d="M138.2,420.0 C140.0,419.4 144.3,419.4 148.9,416.6 C153.6,413.8 160.8,407.6 165.9,403.1 C171.0,398.5 175.2,394.0 179.5,389.5 C183.7,385.0 187.1,380.2 191.3,375.9 C195.6,371.7 200.1,367.7 204.9,364.1 C209.7,360.4 214.8,356.9 220.1,353.9 C225.5,350.9 231.4,348.0 237.1,346.3 C242.7,344.6 248.4,343.9 254.0,343.7 C259.7,343.6 264.7,344.7 271.0,345.4 C277.3,346.1 286.2,347.7 292.0,348.0 C297.8,348.2 301.3,348.0 305.6,347.1 C309.8,346.3 313.2,344.2 317.4,342.9 C321.7,341.6 326.7,339.6 331.0,339.5 C335.2,339.4 338.6,340.6 342.8,342.0 C347.1,343.4 352.2,346.1 356.4,348.0 C360.6,349.8 364.0,351.9 368.3,353.1 C372.5,354.2 377.0,355.0 381.8,354.7 C386.6,354.5 392.3,353.1 397.1,351.4 C401.9,349.7 408.0,345.7 410.6,344.6 C413.3,343.4 412.8,344.6 413.2,344.6"/><path d="M524.0,13.4 C524.7,14.5 526.5,17.6 528.3,20.2 C530.0,22.7 532.5,27.0 534.6,28.7 C536.6,30.4 538.5,31.1 540.5,30.3 C542.4,29.6 544.3,27.2 546.4,24.4 C548.5,21.6 552.1,15.2 553.2,13.4"/><path d="M138.2,52.4 C140.0,52.5 144.3,53.4 148.9,53.2 C153.6,53.1 160.8,52.5 165.9,51.5 C171.0,50.6 174.7,49.5 179.5,47.6 C184.3,45.8 190.2,43.1 194.7,40.5 C199.2,37.9 203.2,34.9 206.6,32.0 C210.0,29.2 212.5,26.7 215.1,23.6 C217.6,20.5 220.7,15.1 221.8,13.4"/><path d="M512.2,12.5 C512.7,13.2 514.1,16.8 515.1,16.8 C516.1,16.8 517.6,13.2 518.1,12.5"/><path d="M838.1,13.4 C838.4,13.8 838.7,14.0 839.8,15.9 C840.9,17.9 842.6,22.1 844.9,25.3 C847.1,28.4 850.8,34.0 853.4,34.6 C855.9,35.1 857.6,31.8 860.1,28.6 C862.7,25.5 866.9,18.5 868.6,15.9 C870.3,13.4 870.0,13.8 870.3,13.4"/><path d="M413.2,344.6 L419.1,350.5 L425.9,367.5 L429.6,380.0 L451.9,445.2 L458.0,445.2 L479.6,380.0 L489.3,353.9 L496.0,344.6"/><path d="M388.0,605.0 L390.6,600.0 L401.7,579.3 L411.8,558.1 L421.2,538.6 L428.8,520.0 L435.6,499.3 L442.3,478.1 L448.3,460.3 L451.5,456.1 L457.9,456.1 L463.0,467.1 L468.9,482.4 L474.9,499.3 L481.7,520.0 L490.1,539.5 L498.6,557.3 L507.1,574.2 L518.9,600.0 L521.5,605.0"/></g>
</g>
<rect x="132" y="15.5" width="798.4" height="979.1" fill="none" stroke="#000" stroke-width="1.6"/>
<path d="M124.8,15.6H132M124.8,124.4H132M124.8,233.1H132M124.8,341.9H132M124.8,450.7H132M124.8,559.5H132M124.8,668.3H132M124.8,777.0H132M124.8,885.8H132M124.8,994.6H132M132.0,994.6V1002M291.5,994.6V1002M451.6,994.6V1002M610.8,994.6V1002M770.7,994.6V1002M930.4,994.6V1002" stroke="#000" stroke-width="1.6" fill="none"/>
<g class="t" font-family="Liberation Sans" font-size="40.5" fill="#000">
<text x="116.3" y="30.6" text-anchor="end">4</text>
<text x="116.3" y="139.4" text-anchor="end">3</text>
<text x="116.3" y="248.1" text-anchor="end">2</text>
<text x="116.3" y="356.9" text-anchor="end">1</text>
<text x="116.3" y="465.7" text-anchor="end">0</text>
<text x="116.3" y="574.5" text-anchor="end">1</text>
<rect x="63.3" y="560.5" width="25.3" height="3.2"/>
<text x="116.3" y="683.3" text-anchor="end">2</text>
<rect x="63.3" y="669.3" width="25.3" height="3.2"/>
<text x="116.3" y="792.0" text-anchor="end">3</text>
<rect x="63.3" y="778.0" width="25.3" height="3.2"/>
<text x="116.3" y="900.8" text-anchor="end">4</text>
<rect x="63.3" y="886.8" width="25.3" height="3.2"/>
<text x="116.3" y="1009.6" text-anchor="end">5</text>
<rect x="63.3" y="995.6" width="25.3" height="3.2"/>
<text x="132.0" y="1039.0" font-size="41.5" text-anchor="middle">M</text>
<text x="293.5" y="1039.0" font-size="41.5" text-anchor="middle">K′</text>
<text x="452.4" y="1039.0" font-size="41.5" text-anchor="middle">Γ</text>
<text x="610.8" y="1039.0" font-size="41.5" text-anchor="middle">K</text>
<text x="770.7" y="1039.0" font-size="41.5" text-anchor="middle">M</text>
<text x="931.2" y="1039.0" font-size="41.5" text-anchor="middle">Γ</text>
<text transform="translate(33.7,506) rotate(-90)" text-anchor="middle" textLength="237" lengthAdjust="spacingAndGlyphs">Energy (eV)</text>
</g></svg>
</body></html>
